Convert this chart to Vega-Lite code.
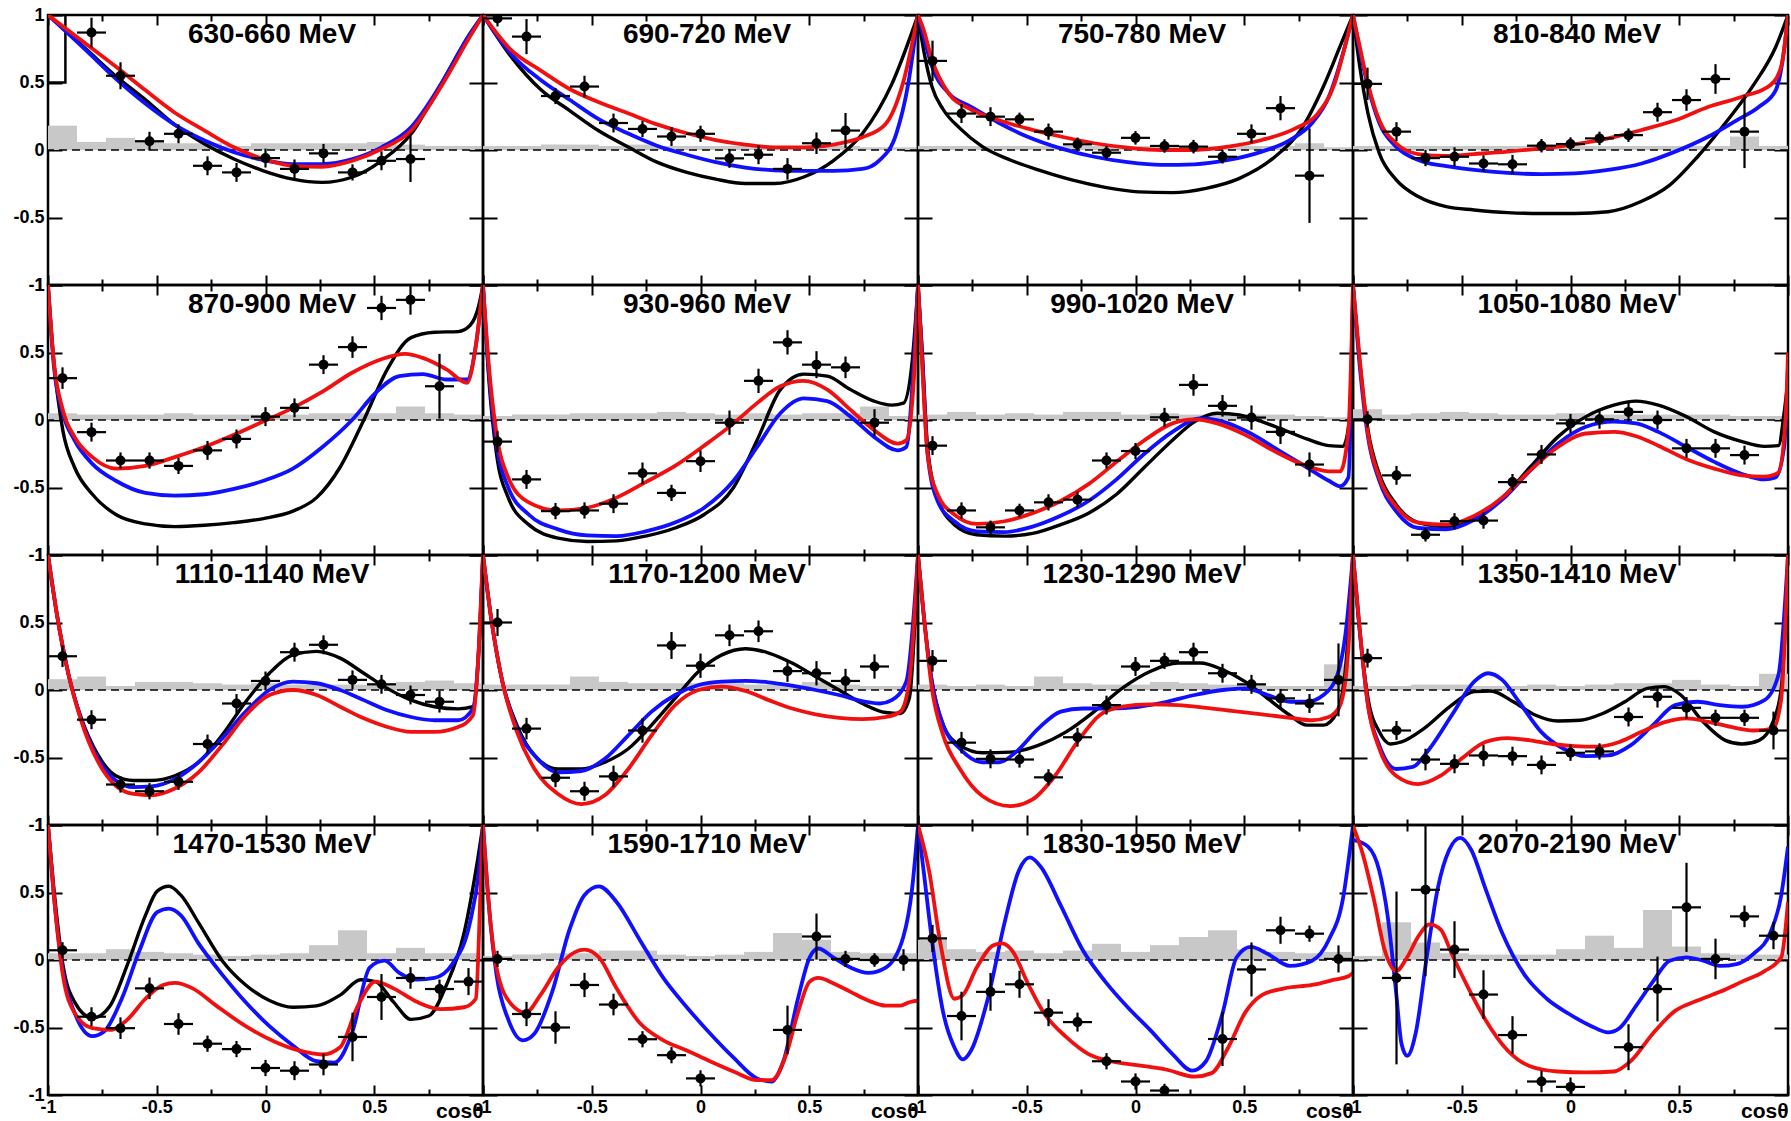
{
"$schema":"https://vega.github.io/schema/vega-lite/v6.json",
"background":"white",
"padding":{"left":0,"top":6,"right":2,"bottom":0},
"bounds":"flush",
"data":{"values":[
{"p":1,"k":"t","label":"630-660 MeV"},{"p":2,"k":"t","label":"690-720 MeV"},{"p":3,"k":"t","label":"750-780 MeV"},{"p":4,"k":"t","label":"810-840 MeV"},
{"p":5,"k":"t","label":"870-900 MeV"},{"p":6,"k":"t","label":"930-960 MeV"},{"p":7,"k":"t","label":"990-1020 MeV"},{"p":8,"k":"t","label":"1050-1080 MeV"},
{"p":9,"k":"t","label":"1110-1140 MeV"},{"p":10,"k":"t","label":"1170-1200 MeV"},{"p":11,"k":"t","label":"1230-1290 MeV"},{"p":12,"k":"t","label":"1350-1410 MeV"},
{"p":13,"k":"t","label":"1470-1530 MeV"},{"p":14,"k":"t","label":"1590-1710 MeV"},{"p":15,"k":"t","label":"1830-1950 MeV"},{"p":16,"k":"t","label":"2070-2190 MeV"},
{"p":1,"k":"q","a":-1,"b":-0.92,"v":0.5,"w":1},

{"p":1,"k":"s","a":-1,"b":-0.8667,"v":0.18},{"p":1,"k":"s","a":-0.8667,"b":-0.7333,"v":0.06},{"p":1,"k":"s","a":-0.7333,"b":-0.6,"v":0.09},{"p":1,"k":"s","a":-0.6,"b":-0.4667,"v":0.06},{"p":1,"k":"s","a":-0.4667,"b":-0.3333,"v":0.05},{"p":1,"k":"s","a":-0.3333,"b":-0.2,"v":0.05},{"p":1,"k":"s","a":-0.2,"b":-0.0667,"v":0.03},{"p":1,"k":"s","a":-0.0667,"b":0.0667,"v":0.05},{"p":1,"k":"s","a":0.0667,"b":0.2,"v":0.05},{"p":1,"k":"s","a":0.2,"b":0.3333,"v":0.05},{"p":1,"k":"s","a":0.3333,"b":0.4667,"v":0.05},{"p":1,"k":"s","a":0.4667,"b":0.6,"v":0.06},{"p":1,"k":"s","a":0.6,"b":0.7333,"v":0.04},{"p":1,"k":"s","a":0.7333,"b":0.8667,"v":0.03},{"p":1,"k":"s","a":0.8667,"b":1,"v":0.03},
{"p":2,"k":"s","a":-1,"b":-0.8667,"v":0.03},{"p":2,"k":"s","a":-0.8667,"b":-0.7333,"v":0.03},{"p":2,"k":"s","a":-0.7333,"b":-0.6,"v":0.04},{"p":2,"k":"s","a":-0.6,"b":-0.4667,"v":0.04},{"p":2,"k":"s","a":-0.4667,"b":-0.3333,"v":0.03},{"p":2,"k":"s","a":-0.3333,"b":-0.2,"v":0.04},{"p":2,"k":"s","a":-0.2,"b":-0.0667,"v":0.03},{"p":2,"k":"s","a":-0.0667,"b":0.0667,"v":0.03},{"p":2,"k":"s","a":0.0667,"b":0.2,"v":0.03},{"p":2,"k":"s","a":0.2,"b":0.3333,"v":0.03},{"p":2,"k":"s","a":0.3333,"b":0.4667,"v":0.03},{"p":2,"k":"s","a":0.4667,"b":0.6,"v":0.03},{"p":2,"k":"s","a":0.6,"b":0.7333,"v":0.03},{"p":2,"k":"s","a":0.7333,"b":0.8667,"v":0.02},{"p":2,"k":"s","a":0.8667,"b":1,"v":0.02},
{"p":3,"k":"s","a":-1,"b":-0.8667,"v":0.03},{"p":3,"k":"s","a":-0.8667,"b":-0.7333,"v":0.03},{"p":3,"k":"s","a":-0.7333,"b":-0.6,"v":0.03},{"p":3,"k":"s","a":-0.6,"b":-0.4667,"v":0.03},{"p":3,"k":"s","a":-0.4667,"b":-0.3333,"v":0.03},{"p":3,"k":"s","a":-0.3333,"b":-0.2,"v":0.03},{"p":3,"k":"s","a":-0.2,"b":-0.0667,"v":0.03},{"p":3,"k":"s","a":-0.0667,"b":0.0667,"v":0.03},{"p":3,"k":"s","a":0.0667,"b":0.2,"v":0.03},{"p":3,"k":"s","a":0.2,"b":0.3333,"v":0.03},{"p":3,"k":"s","a":0.3333,"b":0.4667,"v":0.03},{"p":3,"k":"s","a":0.4667,"b":0.6,"v":0.03},{"p":3,"k":"s","a":0.6,"b":0.7333,"v":0.03},{"p":3,"k":"s","a":0.7333,"b":0.8667,"v":0.05},{"p":3,"k":"s","a":0.8667,"b":1,"v":0.02},
{"p":4,"k":"s","a":-1,"b":-0.8667,"v":0.03},{"p":4,"k":"s","a":-0.8667,"b":-0.7333,"v":0.03},{"p":4,"k":"s","a":-0.7333,"b":-0.6,"v":0.03},{"p":4,"k":"s","a":-0.6,"b":-0.4667,"v":0.03},{"p":4,"k":"s","a":-0.4667,"b":-0.3333,"v":0.03},{"p":4,"k":"s","a":-0.3333,"b":-0.2,"v":0.03},{"p":4,"k":"s","a":-0.2,"b":-0.0667,"v":0.03},{"p":4,"k":"s","a":-0.0667,"b":0.0667,"v":0.03},{"p":4,"k":"s","a":0.0667,"b":0.2,"v":0.03},{"p":4,"k":"s","a":0.2,"b":0.3333,"v":0.03},{"p":4,"k":"s","a":0.3333,"b":0.4667,"v":0.03},{"p":4,"k":"s","a":0.4667,"b":0.6,"v":0.03},{"p":4,"k":"s","a":0.6,"b":0.7333,"v":0.03},{"p":4,"k":"s","a":0.7333,"b":0.8667,"v":0.1},{"p":4,"k":"s","a":0.8667,"b":1,"v":0.03},
{"p":5,"k":"s","a":-1,"b":-0.8667,"v":0.05},{"p":5,"k":"s","a":-0.8667,"b":-0.7333,"v":0.04},{"p":5,"k":"s","a":-0.7333,"b":-0.6,"v":0.04},{"p":5,"k":"s","a":-0.6,"b":-0.4667,"v":0.04},{"p":5,"k":"s","a":-0.4667,"b":-0.3333,"v":0.05},{"p":5,"k":"s","a":-0.3333,"b":-0.2,"v":0.04},{"p":5,"k":"s","a":-0.2,"b":-0.0667,"v":0.04},{"p":5,"k":"s","a":-0.0667,"b":0.0667,"v":0.04},{"p":5,"k":"s","a":0.0667,"b":0.2,"v":0.04},{"p":5,"k":"s","a":0.2,"b":0.3333,"v":0.05},{"p":5,"k":"s","a":0.3333,"b":0.4667,"v":0.05},{"p":5,"k":"s","a":0.4667,"b":0.6,"v":0.05},{"p":5,"k":"s","a":0.6,"b":0.7333,"v":0.1},{"p":5,"k":"s","a":0.7333,"b":0.8667,"v":0.05},{"p":5,"k":"s","a":0.8667,"b":1,"v":0.04},
{"p":6,"k":"s","a":-1,"b":-0.8667,"v":0.03},{"p":6,"k":"s","a":-0.8667,"b":-0.7333,"v":0.04},{"p":6,"k":"s","a":-0.7333,"b":-0.6,"v":0.04},{"p":6,"k":"s","a":-0.6,"b":-0.4667,"v":0.05},{"p":6,"k":"s","a":-0.4667,"b":-0.3333,"v":0.05},{"p":6,"k":"s","a":-0.3333,"b":-0.2,"v":0.05},{"p":6,"k":"s","a":-0.2,"b":-0.0667,"v":0.06},{"p":6,"k":"s","a":-0.0667,"b":0.0667,"v":0.05},{"p":6,"k":"s","a":0.0667,"b":0.2,"v":0.04},{"p":6,"k":"s","a":0.2,"b":0.3333,"v":0.05},{"p":6,"k":"s","a":0.3333,"b":0.4667,"v":0.04},{"p":6,"k":"s","a":0.4667,"b":0.6,"v":0.05},{"p":6,"k":"s","a":0.6,"b":0.7333,"v":0.05},{"p":6,"k":"s","a":0.7333,"b":0.8667,"v":0.1},{"p":6,"k":"s","a":0.8667,"b":1,"v":0.03},
{"p":7,"k":"s","a":-1,"b":-0.8667,"v":0.04},{"p":7,"k":"s","a":-0.8667,"b":-0.7333,"v":0.06},{"p":7,"k":"s","a":-0.7333,"b":-0.6,"v":0.04},{"p":7,"k":"s","a":-0.6,"b":-0.4667,"v":0.05},{"p":7,"k":"s","a":-0.4667,"b":-0.3333,"v":0.04},{"p":7,"k":"s","a":-0.3333,"b":-0.2,"v":0.06},{"p":7,"k":"s","a":-0.2,"b":-0.0667,"v":0.06},{"p":7,"k":"s","a":-0.0667,"b":0.0667,"v":0.04},{"p":7,"k":"s","a":0.0667,"b":0.2,"v":0.05},{"p":7,"k":"s","a":0.2,"b":0.3333,"v":0.04},{"p":7,"k":"s","a":0.3333,"b":0.4667,"v":0.05},{"p":7,"k":"s","a":0.4667,"b":0.6,"v":0.04},{"p":7,"k":"s","a":0.6,"b":0.7333,"v":0.04},{"p":7,"k":"s","a":0.7333,"b":0.8667,"v":0.03},{"p":7,"k":"s","a":0.8667,"b":1,"v":0.02},
{"p":8,"k":"s","a":-1,"b":-0.8667,"v":0.08},{"p":8,"k":"s","a":-0.8667,"b":-0.7333,"v":0.04},{"p":8,"k":"s","a":-0.7333,"b":-0.6,"v":0.05},{"p":8,"k":"s","a":-0.6,"b":-0.4667,"v":0.06},{"p":8,"k":"s","a":-0.4667,"b":-0.3333,"v":0.05},{"p":8,"k":"s","a":-0.3333,"b":-0.2,"v":0.04},{"p":8,"k":"s","a":-0.2,"b":-0.0667,"v":0.04},{"p":8,"k":"s","a":-0.0667,"b":0.0667,"v":0.05},{"p":8,"k":"s","a":0.0667,"b":0.2,"v":0.04},{"p":8,"k":"s","a":0.2,"b":0.3333,"v":0.04},{"p":8,"k":"s","a":0.3333,"b":0.4667,"v":0.04},{"p":8,"k":"s","a":0.4667,"b":0.6,"v":0.04},{"p":8,"k":"s","a":0.6,"b":0.7333,"v":0.04},{"p":8,"k":"s","a":0.7333,"b":0.8667,"v":0.03},{"p":8,"k":"s","a":0.8667,"b":1,"v":0.03},
{"p":9,"k":"s","a":-1,"b":-0.8667,"v":0.08},{"p":9,"k":"s","a":-0.8667,"b":-0.7333,"v":0.1},{"p":9,"k":"s","a":-0.7333,"b":-0.6,"v":0.03},{"p":9,"k":"s","a":-0.6,"b":-0.4667,"v":0.06},{"p":9,"k":"s","a":-0.4667,"b":-0.3333,"v":0.06},{"p":9,"k":"s","a":-0.3333,"b":-0.2,"v":0.05},{"p":9,"k":"s","a":-0.2,"b":-0.0667,"v":0.04},{"p":9,"k":"s","a":-0.0667,"b":0.0667,"v":0.05},{"p":9,"k":"s","a":0.0667,"b":0.2,"v":0.04},{"p":9,"k":"s","a":0.2,"b":0.3333,"v":0.04},{"p":9,"k":"s","a":0.3333,"b":0.4667,"v":0.04},{"p":9,"k":"s","a":0.4667,"b":0.6,"v":0.05},{"p":9,"k":"s","a":0.6,"b":0.7333,"v":0.06},{"p":9,"k":"s","a":0.7333,"b":0.8667,"v":0.07},{"p":9,"k":"s","a":0.8667,"b":1,"v":0.05},
{"p":10,"k":"s","a":-1,"b":-0.8667,"v":0.04},{"p":10,"k":"s","a":-0.8667,"b":-0.7333,"v":0.04},{"p":10,"k":"s","a":-0.7333,"b":-0.6,"v":0.04},{"p":10,"k":"s","a":-0.6,"b":-0.4667,"v":0.1},{"p":10,"k":"s","a":-0.4667,"b":-0.3333,"v":0.06},{"p":10,"k":"s","a":-0.3333,"b":-0.2,"v":0.05},{"p":10,"k":"s","a":-0.2,"b":-0.0667,"v":0.05},{"p":10,"k":"s","a":-0.0667,"b":0.0667,"v":0.05},{"p":10,"k":"s","a":0.0667,"b":0.2,"v":0.05},{"p":10,"k":"s","a":0.2,"b":0.3333,"v":0.04},{"p":10,"k":"s","a":0.3333,"b":0.4667,"v":0.04},{"p":10,"k":"s","a":0.4667,"b":0.6,"v":0.06},{"p":10,"k":"s","a":0.6,"b":0.7333,"v":0.04},{"p":10,"k":"s","a":0.7333,"b":0.8667,"v":0.03},{"p":10,"k":"s","a":0.8667,"b":1,"v":0.03},
{"p":11,"k":"s","a":-1,"b":-0.8667,"v":0.04},{"p":11,"k":"s","a":-0.8667,"b":-0.7333,"v":0.03},{"p":11,"k":"s","a":-0.7333,"b":-0.6,"v":0.04},{"p":11,"k":"s","a":-0.6,"b":-0.4667,"v":0.03},{"p":11,"k":"s","a":-0.4667,"b":-0.3333,"v":0.1},{"p":11,"k":"s","a":-0.3333,"b":-0.2,"v":0.05},{"p":11,"k":"s","a":-0.2,"b":-0.0667,"v":0.04},{"p":11,"k":"s","a":-0.0667,"b":0.0667,"v":0.04},{"p":11,"k":"s","a":0.0667,"b":0.2,"v":0.06},{"p":11,"k":"s","a":0.2,"b":0.3333,"v":0.05},{"p":11,"k":"s","a":0.3333,"b":0.4667,"v":0.04},{"p":11,"k":"s","a":0.4667,"b":0.6,"v":0.04},{"p":11,"k":"s","a":0.6,"b":0.7333,"v":0.03},{"p":11,"k":"s","a":0.7333,"b":0.8667,"v":0.03},{"p":11,"k":"s","a":0.8667,"b":1,"v":0.19},
{"p":12,"k":"s","a":-1,"b":-0.8667,"v":0.03},{"p":12,"k":"s","a":-0.8667,"b":-0.7333,"v":0.03},{"p":12,"k":"s","a":-0.7333,"b":-0.6,"v":0.04},{"p":12,"k":"s","a":-0.6,"b":-0.4667,"v":0.04},{"p":12,"k":"s","a":-0.4667,"b":-0.3333,"v":0.03},{"p":12,"k":"s","a":-0.3333,"b":-0.2,"v":0.03},{"p":12,"k":"s","a":-0.2,"b":-0.0667,"v":0.04},{"p":12,"k":"s","a":-0.0667,"b":0.0667,"v":0.03},{"p":12,"k":"s","a":0.0667,"b":0.2,"v":0.04},{"p":12,"k":"s","a":0.2,"b":0.3333,"v":0.05},{"p":12,"k":"s","a":0.3333,"b":0.4667,"v":0.05},{"p":12,"k":"s","a":0.4667,"b":0.6,"v":0.075},{"p":12,"k":"s","a":0.6,"b":0.7333,"v":0.04},{"p":12,"k":"s","a":0.7333,"b":0.8667,"v":0.03},{"p":12,"k":"s","a":0.8667,"b":1,"v":0.12},
{"p":13,"k":"s","a":-1,"b":-0.8667,"v":0.05},{"p":13,"k":"s","a":-0.8667,"b":-0.7333,"v":0.05},{"p":13,"k":"s","a":-0.7333,"b":-0.6,"v":0.08},{"p":13,"k":"s","a":-0.6,"b":-0.4667,"v":0.06},{"p":13,"k":"s","a":-0.4667,"b":-0.3333,"v":0.05},{"p":13,"k":"s","a":-0.3333,"b":-0.2,"v":0.04},{"p":13,"k":"s","a":-0.2,"b":-0.0667,"v":0.03},{"p":13,"k":"s","a":-0.0667,"b":0.0667,"v":0.04},{"p":13,"k":"s","a":0.0667,"b":0.2,"v":0.05},{"p":13,"k":"s","a":0.2,"b":0.3333,"v":0.11},{"p":13,"k":"s","a":0.3333,"b":0.4667,"v":0.22},{"p":13,"k":"s","a":0.4667,"b":0.6,"v":0.05},{"p":13,"k":"s","a":0.6,"b":0.7333,"v":0.09},{"p":13,"k":"s","a":0.7333,"b":0.8667,"v":0.05},{"p":13,"k":"s","a":0.8667,"b":1,"v":0.05},
{"p":14,"k":"s","a":-1,"b":-0.8667,"v":0.03},{"p":14,"k":"s","a":-0.8667,"b":-0.7333,"v":0.04},{"p":14,"k":"s","a":-0.7333,"b":-0.6,"v":0.05},{"p":14,"k":"s","a":-0.6,"b":-0.4667,"v":0.05},{"p":14,"k":"s","a":-0.4667,"b":-0.3333,"v":0.07},{"p":14,"k":"s","a":-0.3333,"b":-0.2,"v":0.07},{"p":14,"k":"s","a":-0.2,"b":-0.0667,"v":0.04},{"p":14,"k":"s","a":-0.0667,"b":0.0667,"v":0.03},{"p":14,"k":"s","a":0.0667,"b":0.2,"v":0.04},{"p":14,"k":"s","a":0.2,"b":0.3333,"v":0.06},{"p":14,"k":"s","a":0.3333,"b":0.4667,"v":0.2},{"p":14,"k":"s","a":0.4667,"b":0.6,"v":0.15},{"p":14,"k":"s","a":0.6,"b":0.7333,"v":0.06},{"p":14,"k":"s","a":0.7333,"b":0.8667,"v":0.05},{"p":14,"k":"s","a":0.8667,"b":1,"v":0.05},
{"p":15,"k":"s","a":-1,"b":-0.8667,"v":0.15},{"p":15,"k":"s","a":-0.8667,"b":-0.7333,"v":0.08},{"p":15,"k":"s","a":-0.7333,"b":-0.6,"v":0.06},{"p":15,"k":"s","a":-0.6,"b":-0.4667,"v":0.07},{"p":15,"k":"s","a":-0.4667,"b":-0.3333,"v":0.05},{"p":15,"k":"s","a":-0.3333,"b":-0.2,"v":0.07},{"p":15,"k":"s","a":-0.2,"b":-0.0667,"v":0.12},{"p":15,"k":"s","a":-0.0667,"b":0.0667,"v":0.06},{"p":15,"k":"s","a":0.0667,"b":0.2,"v":0.11},{"p":15,"k":"s","a":0.2,"b":0.3333,"v":0.17},{"p":15,"k":"s","a":0.3333,"b":0.4667,"v":0.22},{"p":15,"k":"s","a":0.4667,"b":0.6,"v":0.08},{"p":15,"k":"s","a":0.6,"b":0.7333,"v":0.06},{"p":15,"k":"s","a":0.7333,"b":0.8667,"v":0.05},{"p":15,"k":"s","a":0.8667,"b":1,"v":0.06},
{"p":16,"k":"s","a":-1,"b":-0.8667,"v":0.03},{"p":16,"k":"s","a":-0.8667,"b":-0.7333,"v":0.28},{"p":16,"k":"s","a":-0.7333,"b":-0.6,"v":0.13},{"p":16,"k":"s","a":-0.6,"b":-0.4667,"v":0.05},{"p":16,"k":"s","a":-0.4667,"b":-0.3333,"v":0.04},{"p":16,"k":"s","a":-0.3333,"b":-0.2,"v":0.04},{"p":16,"k":"s","a":-0.2,"b":-0.0667,"v":0.04},{"p":16,"k":"s","a":-0.0667,"b":0.0667,"v":0.08},{"p":16,"k":"s","a":0.0667,"b":0.2,"v":0.18},{"p":16,"k":"s","a":0.2,"b":0.3333,"v":0.09},{"p":16,"k":"s","a":0.3333,"b":0.4667,"v":0.37},{"p":16,"k":"s","a":0.4667,"b":0.6,"v":0.1},{"p":16,"k":"s","a":0.6,"b":0.7333,"v":0.05},{"p":16,"k":"s","a":0.7333,"b":0.8667,"v":0.04},{"p":16,"k":"s","a":0.8667,"b":1,"v":0.04},

{"p":1,"k":"d","x":-0.8,"y":0.87,"ex":0.0667,"ey":0.11},{"p":1,"k":"d","x":-0.6667,"y":0.55,"ex":0.0667,"ey":0.1},{"p":1,"k":"d","x":-0.5333,"y":0.065,"ex":0.0667,"ey":0.07},{"p":1,"k":"d","x":-0.4,"y":0.12,"ex":0.0667,"ey":0.07},{"p":1,"k":"d","x":-0.2667,"y":-0.117,"ex":0.0667,"ey":0.07},{"p":1,"k":"d","x":-0.1333,"y":-0.166,"ex":0.0667,"ey":0.07},{"p":1,"k":"d","x":0,"y":-0.06,"ex":0.0667,"ey":0.07},{"p":1,"k":"d","x":0.1333,"y":-0.14,"ex":0.0667,"ey":0.07},{"p":1,"k":"d","x":0.2667,"y":-0.025,"ex":0.0667,"ey":0.07},{"p":1,"k":"d","x":0.4,"y":-0.166,"ex":0.0667,"ey":0.06},{"p":1,"k":"d","x":0.5333,"y":-0.08,"ex":0.0667,"ey":0.07},{"p":1,"k":"d","x":0.6667,"y":-0.067,"ex":0.0667,"ey":0.17},
{"p":2,"k":"d","x":-0.9333,"y":0.975,"ex":0.0667,"ey":0.06},{"p":2,"k":"d","x":-0.8,"y":0.84,"ex":0.0667,"ey":0.13},{"p":2,"k":"d","x":-0.6667,"y":0.4,"ex":0.0667,"ey":0.06},{"p":2,"k":"d","x":-0.5333,"y":0.47,"ex":0.0667,"ey":0.08},{"p":2,"k":"d","x":-0.4,"y":0.2,"ex":0.0667,"ey":0.07},{"p":2,"k":"d","x":-0.2667,"y":0.156,"ex":0.0667,"ey":0.06},{"p":2,"k":"d","x":-0.1333,"y":0.1,"ex":0.0667,"ey":0.07},{"p":2,"k":"d","x":0,"y":0.12,"ex":0.0667,"ey":0.06},{"p":2,"k":"d","x":0.1333,"y":-0.062,"ex":0.0667,"ey":0.07},{"p":2,"k":"d","x":0.2667,"y":-0.035,"ex":0.0667,"ey":0.07},{"p":2,"k":"d","x":0.4,"y":-0.14,"ex":0.0667,"ey":0.08},{"p":2,"k":"d","x":0.5333,"y":0.05,"ex":0.0667,"ey":0.08},{"p":2,"k":"d","x":0.6667,"y":0.144,"ex":0.0667,"ey":0.13},
{"p":3,"k":"d","x":-0.9333,"y":0.66,"ex":0.0667,"ey":0.15},{"p":3,"k":"d","x":-0.8,"y":0.27,"ex":0.0667,"ey":0.07},{"p":3,"k":"d","x":-0.6667,"y":0.247,"ex":0.0667,"ey":0.07},{"p":3,"k":"d","x":-0.5333,"y":0.227,"ex":0.0667,"ey":0.05},{"p":3,"k":"d","x":-0.4,"y":0.136,"ex":0.0667,"ey":0.06},{"p":3,"k":"d","x":-0.2667,"y":0.042,"ex":0.0667,"ey":0.05},{"p":3,"k":"d","x":-0.1333,"y":-0.02,"ex":0.0667,"ey":0.05},{"p":3,"k":"d","x":0,"y":0.09,"ex":0.0667,"ey":0.05},{"p":3,"k":"d","x":0.1333,"y":0.03,"ex":0.0667,"ey":0.05},{"p":3,"k":"d","x":0.2667,"y":0.025,"ex":0.0667,"ey":0.05},{"p":3,"k":"d","x":0.4,"y":-0.05,"ex":0.0667,"ey":0.05},{"p":3,"k":"d","x":0.5333,"y":0.12,"ex":0.0667,"ey":0.07},{"p":3,"k":"d","x":0.6667,"y":0.31,"ex":0.0667,"ey":0.09},{"p":3,"k":"d","x":0.8,"y":-0.19,"ex":0.0667,"ey":0.35},
{"p":4,"k":"d","x":-0.9333,"y":0.49,"ex":0.0667,"ey":0.12},{"p":4,"k":"d","x":-0.8,"y":0.136,"ex":0.0667,"ey":0.07},{"p":4,"k":"d","x":-0.6667,"y":-0.06,"ex":0.0667,"ey":0.06},{"p":4,"k":"d","x":-0.5333,"y":-0.05,"ex":0.0667,"ey":0.07},{"p":4,"k":"d","x":-0.4,"y":-0.1,"ex":0.0667,"ey":0.06},{"p":4,"k":"d","x":-0.2667,"y":-0.106,"ex":0.0667,"ey":0.07},{"p":4,"k":"d","x":-0.1333,"y":0.032,"ex":0.0667,"ey":0.05},{"p":4,"k":"d","x":0,"y":0.044,"ex":0.0667,"ey":0.05},{"p":4,"k":"d","x":0.1333,"y":0.086,"ex":0.0667,"ey":0.05},{"p":4,"k":"d","x":0.2667,"y":0.11,"ex":0.0667,"ey":0.05},{"p":4,"k":"d","x":0.4,"y":0.28,"ex":0.0667,"ey":0.07},{"p":4,"k":"d","x":0.5333,"y":0.37,"ex":0.0667,"ey":0.08},{"p":4,"k":"d","x":0.6667,"y":0.526,"ex":0.0667,"ey":0.11},{"p":4,"k":"d","x":0.8,"y":0.136,"ex":0.0667,"ey":0.27},
{"p":5,"k":"d","x":-0.9333,"y":0.31,"ex":0.0667,"ey":0.08},{"p":5,"k":"d","x":-0.8,"y":-0.09,"ex":0.0667,"ey":0.07},{"p":5,"k":"d","x":-0.6667,"y":-0.3,"ex":0.0667,"ey":0.06},{"p":5,"k":"d","x":-0.5333,"y":-0.3,"ex":0.0667,"ey":0.06},{"p":5,"k":"d","x":-0.4,"y":-0.34,"ex":0.0667,"ey":0.06},{"p":5,"k":"d","x":-0.2667,"y":-0.225,"ex":0.0667,"ey":0.07},{"p":5,"k":"d","x":-0.1333,"y":-0.14,"ex":0.0667,"ey":0.07},{"p":5,"k":"d","x":0,"y":0.025,"ex":0.0667,"ey":0.07},{"p":5,"k":"d","x":0.1333,"y":0.09,"ex":0.0667,"ey":0.07},{"p":5,"k":"d","x":0.2667,"y":0.41,"ex":0.0667,"ey":0.07},{"p":5,"k":"d","x":0.4,"y":0.54,"ex":0.0667,"ey":0.08},{"p":5,"k":"d","x":0.5333,"y":0.83,"ex":0.0667,"ey":0.09},{"p":5,"k":"d","x":0.6667,"y":0.89,"ex":0.0667,"ey":0.11},{"p":5,"k":"d","x":0.8,"y":0.25,"ex":0.0667,"ey":0.24},
{"p":6,"k":"d","x":-0.9333,"y":-0.16,"ex":0.0667,"ey":0.08},{"p":6,"k":"d","x":-0.8,"y":-0.44,"ex":0.0667,"ey":0.07},{"p":6,"k":"d","x":-0.6667,"y":-0.675,"ex":0.0667,"ey":0.06},{"p":6,"k":"d","x":-0.5333,"y":-0.67,"ex":0.0667,"ey":0.06},{"p":6,"k":"d","x":-0.4,"y":-0.62,"ex":0.0667,"ey":0.07},{"p":6,"k":"d","x":-0.2667,"y":-0.395,"ex":0.0667,"ey":0.08},{"p":6,"k":"d","x":-0.1333,"y":-0.54,"ex":0.0667,"ey":0.06},{"p":6,"k":"d","x":0,"y":-0.305,"ex":0.0667,"ey":0.08},{"p":6,"k":"d","x":0.1333,"y":-0.02,"ex":0.0667,"ey":0.09},{"p":6,"k":"d","x":0.2667,"y":0.29,"ex":0.0667,"ey":0.09},{"p":6,"k":"d","x":0.4,"y":0.575,"ex":0.0667,"ey":0.09},{"p":6,"k":"d","x":0.5333,"y":0.41,"ex":0.0667,"ey":0.1},{"p":6,"k":"d","x":0.6667,"y":0.39,"ex":0.0667,"ey":0.08},{"p":6,"k":"d","x":0.8,"y":-0.02,"ex":0.0667,"ey":0.1},
{"p":7,"k":"d","x":-0.9333,"y":-0.19,"ex":0.0667,"ey":0.07},{"p":7,"k":"d","x":-0.8,"y":-0.67,"ex":0.0667,"ey":0.06},{"p":7,"k":"d","x":-0.6667,"y":-0.795,"ex":0.0667,"ey":0.05},{"p":7,"k":"d","x":-0.5333,"y":-0.67,"ex":0.0667,"ey":0.05},{"p":7,"k":"d","x":-0.4,"y":-0.61,"ex":0.0667,"ey":0.06},{"p":7,"k":"d","x":-0.2667,"y":-0.59,"ex":0.0667,"ey":0.06},{"p":7,"k":"d","x":-0.1333,"y":-0.3,"ex":0.0667,"ey":0.06},{"p":7,"k":"d","x":0,"y":-0.23,"ex":0.0667,"ey":0.06},{"p":7,"k":"d","x":0.1333,"y":0.02,"ex":0.0667,"ey":0.07},{"p":7,"k":"d","x":0.2667,"y":0.26,"ex":0.0667,"ey":0.08},{"p":7,"k":"d","x":0.4,"y":0.105,"ex":0.0667,"ey":0.08},{"p":7,"k":"d","x":0.5333,"y":0.018,"ex":0.0667,"ey":0.09},{"p":7,"k":"d","x":0.6667,"y":-0.088,"ex":0.0667,"ey":0.09},{"p":7,"k":"d","x":0.8,"y":-0.33,"ex":0.0667,"ey":0.09},
{"p":8,"k":"d","x":-0.9333,"y":0.005,"ex":0.0667,"ey":0.06},{"p":8,"k":"d","x":-0.8,"y":-0.41,"ex":0.0667,"ey":0.07},{"p":8,"k":"d","x":-0.6667,"y":-0.85,"ex":0.0667,"ey":0.05},{"p":8,"k":"d","x":-0.5333,"y":-0.75,"ex":0.0667,"ey":0.06},{"p":8,"k":"d","x":-0.4,"y":-0.745,"ex":0.0667,"ey":0.06},{"p":8,"k":"d","x":-0.2667,"y":-0.46,"ex":0.0667,"ey":0.06},{"p":8,"k":"d","x":-0.1333,"y":-0.255,"ex":0.0667,"ey":0.07},{"p":8,"k":"d","x":0,"y":-0.025,"ex":0.0667,"ey":0.07},{"p":8,"k":"d","x":0.1333,"y":0.005,"ex":0.0667,"ey":0.07},{"p":8,"k":"d","x":0.2667,"y":0.06,"ex":0.0667,"ey":0.07},{"p":8,"k":"d","x":0.4,"y":0.0,"ex":0.0667,"ey":0.07},{"p":8,"k":"d","x":0.5333,"y":-0.21,"ex":0.0667,"ey":0.07},{"p":8,"k":"d","x":0.6667,"y":-0.21,"ex":0.0667,"ey":0.07},{"p":8,"k":"d","x":0.8,"y":-0.26,"ex":0.0667,"ey":0.07},
{"p":9,"k":"d","x":-0.9333,"y":0.25,"ex":0.0667,"ey":0.08},{"p":9,"k":"d","x":-0.8,"y":-0.22,"ex":0.0667,"ey":0.07},{"p":9,"k":"d","x":-0.6667,"y":-0.7,"ex":0.0667,"ey":0.06},{"p":9,"k":"d","x":-0.5333,"y":-0.75,"ex":0.0667,"ey":0.06},{"p":9,"k":"d","x":-0.4,"y":-0.68,"ex":0.0667,"ey":0.06},{"p":9,"k":"d","x":-0.2667,"y":-0.4,"ex":0.0667,"ey":0.07},{"p":9,"k":"d","x":-0.1333,"y":-0.1,"ex":0.0667,"ey":0.07},{"p":9,"k":"d","x":0,"y":0.067,"ex":0.0667,"ey":0.07},{"p":9,"k":"d","x":0.1333,"y":0.28,"ex":0.0667,"ey":0.07},{"p":9,"k":"d","x":0.2667,"y":0.335,"ex":0.0667,"ey":0.07},{"p":9,"k":"d","x":0.4,"y":0.075,"ex":0.0667,"ey":0.07},{"p":9,"k":"d","x":0.5333,"y":0.042,"ex":0.0667,"ey":0.07},{"p":9,"k":"d","x":0.6667,"y":-0.037,"ex":0.0667,"ey":0.07},{"p":9,"k":"d","x":0.8,"y":-0.087,"ex":0.0667,"ey":0.08},
{"p":10,"k":"d","x":-0.9333,"y":0.5,"ex":0.0667,"ey":0.1},{"p":10,"k":"d","x":-0.8,"y":-0.286,"ex":0.0667,"ey":0.08},{"p":10,"k":"d","x":-0.6667,"y":-0.65,"ex":0.0667,"ey":0.07},{"p":10,"k":"d","x":-0.5333,"y":-0.75,"ex":0.0667,"ey":0.07},{"p":10,"k":"d","x":-0.4,"y":-0.64,"ex":0.0667,"ey":0.08},{"p":10,"k":"d","x":-0.2667,"y":-0.3,"ex":0.0667,"ey":0.09},{"p":10,"k":"d","x":-0.1333,"y":0.33,"ex":0.0667,"ey":0.1},{"p":10,"k":"d","x":0,"y":0.18,"ex":0.0667,"ey":0.09},{"p":10,"k":"d","x":0.1333,"y":0.405,"ex":0.0667,"ey":0.08},{"p":10,"k":"d","x":0.2667,"y":0.435,"ex":0.0667,"ey":0.08},{"p":10,"k":"d","x":0.4,"y":0.14,"ex":0.0667,"ey":0.08},{"p":10,"k":"d","x":0.5333,"y":0.124,"ex":0.0667,"ey":0.09},{"p":10,"k":"d","x":0.6667,"y":0.067,"ex":0.0667,"ey":0.09},{"p":10,"k":"d","x":0.8,"y":0.174,"ex":0.0667,"ey":0.09},
{"p":11,"k":"d","x":-0.9333,"y":0.216,"ex":0.0667,"ey":0.08},{"p":11,"k":"d","x":-0.8,"y":-0.39,"ex":0.0667,"ey":0.08},{"p":11,"k":"d","x":-0.6667,"y":-0.51,"ex":0.0667,"ey":0.07},{"p":11,"k":"d","x":-0.5333,"y":-0.515,"ex":0.0667,"ey":0.06},{"p":11,"k":"d","x":-0.4,"y":-0.647,"ex":0.0667,"ey":0.06},{"p":11,"k":"d","x":-0.2667,"y":-0.35,"ex":0.0667,"ey":0.07},{"p":11,"k":"d","x":-0.1333,"y":-0.112,"ex":0.0667,"ey":0.07},{"p":11,"k":"d","x":0,"y":0.174,"ex":0.0667,"ey":0.07},{"p":11,"k":"d","x":0.1333,"y":0.216,"ex":0.0667,"ey":0.06},{"p":11,"k":"d","x":0.2667,"y":0.28,"ex":0.0667,"ey":0.07},{"p":11,"k":"d","x":0.4,"y":0.124,"ex":0.0667,"ey":0.07},{"p":11,"k":"d","x":0.5333,"y":0.042,"ex":0.0667,"ey":0.07},{"p":11,"k":"d","x":0.6667,"y":-0.062,"ex":0.0667,"ey":0.07},{"p":11,"k":"d","x":0.8,"y":-0.1,"ex":0.0667,"ey":0.07},{"p":11,"k":"d","x":0.9333,"y":0.075,"ex":0.0667,"ey":0.27},
{"p":12,"k":"d","x":-0.9333,"y":0.236,"ex":0.0667,"ey":0.07},{"p":12,"k":"d","x":-0.8,"y":-0.3,"ex":0.0667,"ey":0.07},{"p":12,"k":"d","x":-0.6667,"y":-0.515,"ex":0.0667,"ey":0.08},{"p":12,"k":"d","x":-0.5333,"y":-0.547,"ex":0.0667,"ey":0.07},{"p":12,"k":"d","x":-0.4,"y":-0.485,"ex":0.0667,"ey":0.08},{"p":12,"k":"d","x":-0.2667,"y":-0.49,"ex":0.0667,"ey":0.07},{"p":12,"k":"d","x":-0.1333,"y":-0.555,"ex":0.0667,"ey":0.07},{"p":12,"k":"d","x":0,"y":-0.465,"ex":0.0667,"ey":0.06},{"p":12,"k":"d","x":0.1333,"y":-0.455,"ex":0.0667,"ey":0.06},{"p":12,"k":"d","x":0.2667,"y":-0.2,"ex":0.0667,"ey":0.07},{"p":12,"k":"d","x":0.4,"y":-0.05,"ex":0.0667,"ey":0.08},{"p":12,"k":"d","x":0.5333,"y":-0.132,"ex":0.0667,"ey":0.08},{"p":12,"k":"d","x":0.6667,"y":-0.206,"ex":0.0667,"ey":0.06},{"p":12,"k":"d","x":0.8,"y":-0.206,"ex":0.0667,"ey":0.06},{"p":12,"k":"d","x":0.9333,"y":-0.3,"ex":0.0667,"ey":0.14},
{"p":13,"k":"d","x":-0.9333,"y":0.072,"ex":0.0667,"ey":0.06},{"p":13,"k":"d","x":-0.8,"y":-0.42,"ex":0.0667,"ey":0.07},{"p":13,"k":"d","x":-0.6667,"y":-0.505,"ex":0.0667,"ey":0.08},{"p":13,"k":"d","x":-0.5333,"y":-0.21,"ex":0.0667,"ey":0.08},{"p":13,"k":"d","x":-0.4,"y":-0.474,"ex":0.0667,"ey":0.08},{"p":13,"k":"d","x":-0.2667,"y":-0.62,"ex":0.0667,"ey":0.06},{"p":13,"k":"d","x":-0.1333,"y":-0.66,"ex":0.0667,"ey":0.06},{"p":13,"k":"d","x":0,"y":-0.8,"ex":0.0667,"ey":0.06},{"p":13,"k":"d","x":0.1333,"y":-0.82,"ex":0.0667,"ey":0.07},{"p":13,"k":"d","x":0.2667,"y":-0.774,"ex":0.0667,"ey":0.08},{"p":13,"k":"d","x":0.4,"y":-0.57,"ex":0.0667,"ey":0.18},{"p":13,"k":"d","x":0.5333,"y":-0.274,"ex":0.0667,"ey":0.17},{"p":13,"k":"d","x":0.6667,"y":-0.133,"ex":0.0667,"ey":0.08},{"p":13,"k":"d","x":0.8,"y":-0.215,"ex":0.0667,"ey":0.07},{"p":13,"k":"d","x":0.9333,"y":-0.16,"ex":0.0667,"ey":0.1},
{"p":14,"k":"d","x":-0.9333,"y":0.008,"ex":0.0667,"ey":0.06},{"p":14,"k":"d","x":-0.8,"y":-0.4,"ex":0.0667,"ey":0.09},{"p":14,"k":"d","x":-0.6667,"y":-0.5,"ex":0.0667,"ey":0.12},{"p":14,"k":"d","x":-0.5333,"y":-0.185,"ex":0.0667,"ey":0.09},{"p":14,"k":"d","x":-0.4,"y":-0.33,"ex":0.0667,"ey":0.08},{"p":14,"k":"d","x":-0.2667,"y":-0.587,"ex":0.0667,"ey":0.06},{"p":14,"k":"d","x":-0.1333,"y":-0.705,"ex":0.0667,"ey":0.06},{"p":14,"k":"d","x":0,"y":-0.877,"ex":0.0667,"ey":0.06},{"p":14,"k":"d","x":0.4,"y":-0.518,"ex":0.0667,"ey":0.18},{"p":14,"k":"d","x":0.5333,"y":0.174,"ex":0.0667,"ey":0.17},{"p":14,"k":"d","x":0.6667,"y":0.008,"ex":0.0667,"ey":0.06},{"p":14,"k":"d","x":0.8,"y":0.0,"ex":0.0667,"ey":0.05},{"p":14,"k":"d","x":0.9333,"y":0.0,"ex":0.0667,"ey":0.08},
{"p":15,"k":"d","x":-0.9333,"y":0.16,"ex":0.0667,"ey":0.1},{"p":15,"k":"d","x":-0.8,"y":-0.415,"ex":0.0667,"ey":0.18},{"p":15,"k":"d","x":-0.6667,"y":-0.236,"ex":0.0667,"ey":0.14},{"p":15,"k":"d","x":-0.5333,"y":-0.18,"ex":0.0667,"ey":0.1},{"p":15,"k":"d","x":-0.4,"y":-0.39,"ex":0.0667,"ey":0.1},{"p":15,"k":"d","x":-0.2667,"y":-0.46,"ex":0.0667,"ey":0.07},{"p":15,"k":"d","x":-0.1333,"y":-0.75,"ex":0.0667,"ey":0.06},{"p":15,"k":"d","x":0,"y":-0.9,"ex":0.0667,"ey":0.06},{"p":15,"k":"d","x":0.1333,"y":-0.967,"ex":0.0667,"ey":0.05},{"p":15,"k":"d","x":0.4,"y":-0.585,"ex":0.0667,"ey":0.2},{"p":15,"k":"d","x":0.5333,"y":-0.07,"ex":0.0667,"ey":0.2},{"p":15,"k":"d","x":0.6667,"y":0.22,"ex":0.0667,"ey":0.1},{"p":15,"k":"d","x":0.8,"y":0.195,"ex":0.0667,"ey":0.06},{"p":15,"k":"d","x":0.9333,"y":0.008,"ex":0.0667,"ey":0.1},
{"p":16,"k":"d","x":-0.8,"y":-0.133,"ex":0.0667,"ey":0.64},{"p":16,"k":"d","x":-0.6667,"y":0.52,"ex":0.0667,"ey":0.64},{"p":16,"k":"d","x":-0.5333,"y":0.077,"ex":0.0667,"ey":0.21},{"p":16,"k":"d","x":-0.4,"y":-0.256,"ex":0.0667,"ey":0.18},{"p":16,"k":"d","x":-0.2667,"y":-0.556,"ex":0.0667,"ey":0.14},{"p":16,"k":"d","x":-0.1333,"y":-0.9,"ex":0.0667,"ey":0.08},{"p":16,"k":"d","x":0,"y":-0.94,"ex":0.0667,"ey":0.07},{"p":16,"k":"d","x":0.2667,"y":-0.646,"ex":0.0667,"ey":0.17},{"p":16,"k":"d","x":0.4,"y":-0.215,"ex":0.0667,"ey":0.24},{"p":16,"k":"d","x":0.5333,"y":0.39,"ex":0.0667,"ey":0.33},{"p":16,"k":"d","x":0.6667,"y":0.008,"ex":0.0667,"ey":0.15},{"p":16,"k":"d","x":0.8,"y":0.323,"ex":0.0667,"ey":0.08},{"p":16,"k":"d","x":0.9333,"y":0.18,"ex":0.0667,"ey":0.1},

{"p":1,"k":"k","x":-1,"y":1},{"p":1,"k":"k","x":-0.82,"y":0.74},{"p":1,"k":"k","x":-0.69,"y":0.55},{"p":1,"k":"k","x":-0.55,"y":0.37},{"p":1,"k":"k","x":-0.42,"y":0.19},{"p":1,"k":"k","x":-0.28,"y":0.045},{"p":1,"k":"k","x":-0.145,"y":-0.067},{"p":1,"k":"k","x":-0.01,"y":-0.154},{"p":1,"k":"k","x":0.126,"y":-0.216},{"p":1,"k":"k","x":0.26,"y":-0.24},{"p":1,"k":"k","x":0.4,"y":-0.2},{"p":1,"k":"k","x":0.533,"y":-0.08},{"p":1,"k":"k","x":0.67,"y":0.12},{"p":1,"k":"k","x":0.8,"y":0.47},{"p":1,"k":"k","x":0.94,"y":0.86},{"p":1,"k":"k","x":1,"y":1},
{"p":1,"k":"b","x":-1,"y":1},{"p":1,"k":"b","x":-0.82,"y":0.73},{"p":1,"k":"b","x":-0.69,"y":0.53},{"p":1,"k":"b","x":-0.55,"y":0.34},{"p":1,"k":"b","x":-0.42,"y":0.19},{"p":1,"k":"b","x":-0.28,"y":0.07},{"p":1,"k":"b","x":-0.145,"y":-0.017},{"p":1,"k":"b","x":-0.01,"y":-0.074},{"p":1,"k":"b","x":0.126,"y":-0.104},{"p":1,"k":"b","x":0.26,"y":-0.104},{"p":1,"k":"b","x":0.4,"y":-0.067},{"p":1,"k":"b","x":0.533,"y":0.02},{"p":1,"k":"b","x":0.67,"y":0.17},{"p":1,"k":"b","x":0.8,"y":0.47},{"p":1,"k":"b","x":0.94,"y":0.86},{"p":1,"k":"b","x":1,"y":1},
{"p":1,"k":"r","x":-1,"y":1},{"p":1,"k":"r","x":-0.82,"y":0.78},{"p":1,"k":"r","x":-0.69,"y":0.62},{"p":1,"k":"r","x":-0.55,"y":0.44},{"p":1,"k":"r","x":-0.42,"y":0.28},{"p":1,"k":"r","x":-0.28,"y":0.144},{"p":1,"k":"r","x":-0.145,"y":0.02},{"p":1,"k":"r","x":-0.01,"y":-0.067},{"p":1,"k":"r","x":0.126,"y":-0.117},{"p":1,"k":"r","x":0.26,"y":-0.124},{"p":1,"k":"r","x":0.4,"y":-0.08},{"p":1,"k":"r","x":0.533,"y":0.007},{"p":1,"k":"r","x":0.67,"y":0.144},{"p":1,"k":"r","x":0.8,"y":0.45},{"p":1,"k":"r","x":0.94,"y":0.84},{"p":1,"k":"r","x":1,"y":1},

{"p":2,"k":"k","x":-1,"y":1},{"p":2,"k":"k","x":-0.87,"y":0.69},{"p":2,"k":"k","x":-0.736,"y":0.45},{"p":2,"k":"k","x":-0.6,"y":0.29},{"p":2,"k":"k","x":-0.47,"y":0.144},{"p":2,"k":"k","x":-0.33,"y":0.02},{"p":2,"k":"k","x":-0.2,"y":-0.09},{"p":2,"k":"k","x":-0.063,"y":-0.166},{"p":2,"k":"k","x":0.07,"y":-0.216},{"p":2,"k":"k","x":0.206,"y":-0.248},{"p":2,"k":"k","x":0.34,"y":-0.248},{"p":2,"k":"k","x":0.475,"y":-0.2},{"p":2,"k":"k","x":0.61,"y":-0.08},{"p":2,"k":"k","x":0.744,"y":0.12},{"p":2,"k":"k","x":0.88,"y":0.49},{"p":2,"k":"k","x":1,"y":1},
{"p":2,"k":"b","x":-1,"y":1},{"p":2,"k":"b","x":-0.87,"y":0.71},{"p":2,"k":"b","x":-0.736,"y":0.52},{"p":2,"k":"b","x":-0.6,"y":0.37},{"p":2,"k":"b","x":-0.47,"y":0.23},{"p":2,"k":"b","x":-0.33,"y":0.12},{"p":2,"k":"b","x":-0.2,"y":0.032},{"p":2,"k":"b","x":-0.063,"y":-0.035},{"p":2,"k":"b","x":0.07,"y":-0.09},{"p":2,"k":"b","x":0.206,"y":-0.13},{"p":2,"k":"b","x":0.34,"y":-0.15},{"p":2,"k":"b","x":0.475,"y":-0.154},{"p":2,"k":"b","x":0.61,"y":-0.154},{"p":2,"k":"b","x":0.744,"y":-0.14},{"p":2,"k":"b","x":0.82,"y":-0.08},{"p":2,"k":"b","x":0.9,"y":0.12},{"p":2,"k":"b","x":0.955,"y":0.49},{"p":2,"k":"b","x":1,"y":1},
{"p":2,"k":"r","x":-1,"y":1},{"p":2,"k":"r","x":-0.87,"y":0.74},{"p":2,"k":"r","x":-0.736,"y":0.59},{"p":2,"k":"r","x":-0.6,"y":0.45},{"p":2,"k":"r","x":-0.47,"y":0.355},{"p":2,"k":"r","x":-0.33,"y":0.27},{"p":2,"k":"r","x":-0.2,"y":0.19},{"p":2,"k":"r","x":-0.063,"y":0.124},{"p":2,"k":"r","x":0.07,"y":0.074},{"p":2,"k":"r","x":0.206,"y":0.04},{"p":2,"k":"r","x":0.34,"y":0.02},{"p":2,"k":"r","x":0.475,"y":0.02},{"p":2,"k":"r","x":0.61,"y":0.04},{"p":2,"k":"r","x":0.744,"y":0.094},{"p":2,"k":"r","x":0.85,"y":0.19},{"p":2,"k":"r","x":0.93,"y":0.49},{"p":2,"k":"r","x":1,"y":1},

{"p":3,"k":"k","x":-1,"y":1},{"p":3,"k":"k","x":-0.974,"y":0.74},{"p":3,"k":"k","x":-0.936,"y":0.47},{"p":3,"k":"k","x":-0.884,"y":0.3},{"p":3,"k":"k","x":-0.807,"y":0.16},{"p":3,"k":"k","x":-0.704,"y":0.025},{"p":3,"k":"k","x":-0.576,"y":-0.074},{"p":3,"k":"k","x":-0.447,"y":-0.148},{"p":3,"k":"k","x":-0.293,"y":-0.222},{"p":3,"k":"k","x":-0.139,"y":-0.277},{"p":3,"k":"k","x":0.015,"y":-0.31},{"p":3,"k":"k","x":0.17,"y":-0.316},{"p":3,"k":"k","x":0.324,"y":-0.284},{"p":3,"k":"k","x":0.478,"y":-0.21},{"p":3,"k":"k","x":0.632,"y":-0.062},{"p":3,"k":"k","x":0.76,"y":0.148},{"p":3,"k":"k","x":0.864,"y":0.47},{"p":3,"k":"k","x":0.94,"y":0.765},{"p":3,"k":"k","x":1,"y":1},
{"p":3,"k":"b","x":-1,"y":1},{"p":3,"k":"b","x":-0.974,"y":0.84},{"p":3,"k":"b","x":-0.936,"y":0.62},{"p":3,"k":"b","x":-0.859,"y":0.42},{"p":3,"k":"b","x":-0.756,"y":0.32},{"p":3,"k":"b","x":-0.627,"y":0.2},{"p":3,"k":"b","x":-0.499,"y":0.1},{"p":3,"k":"b","x":-0.344,"y":0.012},{"p":3,"k":"b","x":-0.19,"y":-0.05},{"p":3,"k":"b","x":-0.036,"y":-0.09},{"p":3,"k":"b","x":0.118,"y":-0.11},{"p":3,"k":"b","x":0.272,"y":-0.106},{"p":3,"k":"b","x":0.427,"y":-0.074},{"p":3,"k":"b","x":0.581,"y":-0.012},{"p":3,"k":"b","x":0.71,"y":0.074},{"p":3,"k":"b","x":0.812,"y":0.2},{"p":3,"k":"b","x":0.889,"y":0.395},{"p":3,"k":"b","x":0.954,"y":0.716},{"p":3,"k":"b","x":1,"y":1},
{"p":3,"k":"r","x":-1,"y":1},{"p":3,"k":"r","x":-0.974,"y":0.89},{"p":3,"k":"r","x":-0.936,"y":0.67},{"p":3,"k":"r","x":-0.859,"y":0.42},{"p":3,"k":"r","x":-0.756,"y":0.3},{"p":3,"k":"r","x":-0.627,"y":0.22},{"p":3,"k":"r","x":-0.499,"y":0.16},{"p":3,"k":"r","x":-0.344,"y":0.1},{"p":3,"k":"r","x":-0.19,"y":0.05},{"p":3,"k":"r","x":-0.036,"y":0.017},{"p":3,"k":"r","x":0.118,"y":0},{"p":3,"k":"r","x":0.272,"y":0},{"p":3,"k":"r","x":0.427,"y":0.025},{"p":3,"k":"r","x":0.581,"y":0.074},{"p":3,"k":"r","x":0.735,"y":0.16},{"p":3,"k":"r","x":0.838,"y":0.27},{"p":3,"k":"r","x":0.915,"y":0.49},{"p":3,"k":"r","x":0.967,"y":0.79},{"p":3,"k":"r","x":1,"y":1},

{"p":4,"k":"k","x":-1,"y":1},{"p":4,"k":"k","x":-0.969,"y":0.62},{"p":4,"k":"k","x":-0.931,"y":0.27},{"p":4,"k":"k","x":-0.879,"y":-0.025},{"p":4,"k":"k","x":-0.802,"y":-0.22},{"p":4,"k":"k","x":-0.7,"y":-0.345},{"p":4,"k":"k","x":-0.571,"y":-0.42},{"p":4,"k":"k","x":-0.443,"y":-0.444},{"p":4,"k":"k","x":-0.289,"y":-0.464},{"p":4,"k":"k","x":-0.135,"y":-0.47},{"p":4,"k":"k","x":0.019,"y":-0.47},{"p":4,"k":"k","x":0.173,"y":-0.457},{"p":4,"k":"k","x":0.327,"y":-0.38},{"p":4,"k":"k","x":0.456,"y":-0.26},{"p":4,"k":"k","x":0.584,"y":-0.05},{"p":4,"k":"k","x":0.712,"y":0.2},{"p":4,"k":"k","x":0.841,"y":0.48},{"p":4,"k":"k","x":0.944,"y":0.765},{"p":4,"k":"k","x":1,"y":1},
{"p":4,"k":"b","x":-1,"y":1},{"p":4,"k":"b","x":-0.969,"y":0.74},{"p":4,"k":"b","x":-0.931,"y":0.47},{"p":4,"k":"b","x":-0.879,"y":0.2},{"p":4,"k":"b","x":-0.802,"y":0.025},{"p":4,"k":"b","x":-0.7,"y":-0.074},{"p":4,"k":"b","x":-0.571,"y":-0.12},{"p":4,"k":"b","x":-0.443,"y":-0.148},{"p":4,"k":"b","x":-0.289,"y":-0.17},{"p":4,"k":"b","x":-0.135,"y":-0.178},{"p":4,"k":"b","x":0.019,"y":-0.173},{"p":4,"k":"b","x":0.173,"y":-0.148},{"p":4,"k":"b","x":0.327,"y":-0.1},{"p":4,"k":"b","x":0.481,"y":-0.012},{"p":4,"k":"b","x":0.635,"y":0.1},{"p":4,"k":"b","x":0.764,"y":0.22},{"p":4,"k":"b","x":0.867,"y":0.32},{"p":4,"k":"b","x":0.944,"y":0.444},{"p":4,"k":"b","x":0.982,"y":0.74},{"p":4,"k":"b","x":1,"y":1},
{"p":4,"k":"r","x":-1,"y":1},{"p":4,"k":"r","x":-0.969,"y":0.765},{"p":4,"k":"r","x":-0.931,"y":0.49},{"p":4,"k":"r","x":-0.879,"y":0.22},{"p":4,"k":"r","x":-0.802,"y":0.05},{"p":4,"k":"r","x":-0.7,"y":-0.03},{"p":4,"k":"r","x":-0.571,"y":-0.044},{"p":4,"k":"r","x":-0.443,"y":-0.03},{"p":4,"k":"r","x":-0.289,"y":-0.012},{"p":4,"k":"r","x":-0.135,"y":0.012},{"p":4,"k":"r","x":0.019,"y":0.042},{"p":4,"k":"r","x":0.173,"y":0.086},{"p":4,"k":"r","x":0.327,"y":0.148},{"p":4,"k":"r","x":0.481,"y":0.22},{"p":4,"k":"r","x":0.635,"y":0.32},{"p":4,"k":"r","x":0.789,"y":0.395},{"p":4,"k":"r","x":0.918,"y":0.48},{"p":4,"k":"r","x":0.969,"y":0.62},{"p":4,"k":"r","x":1,"y":1},

{"p":5,"k":"k","x":-1,"y":1},{"p":5,"k":"k","x":-0.973,"y":0.43},{"p":5,"k":"k","x":-0.932,"y":-0.075},{"p":5,"k":"k","x":-0.878,"y":-0.35},{"p":5,"k":"k","x":-0.796,"y":-0.55},{"p":5,"k":"k","x":-0.688,"y":-0.7},{"p":5,"k":"k","x":-0.552,"y":-0.77},{"p":5,"k":"k","x":-0.417,"y":-0.79},{"p":5,"k":"k","x":-0.281,"y":-0.78},{"p":5,"k":"k","x":-0.145,"y":-0.76},{"p":5,"k":"k","x":-0.009,"y":-0.73},{"p":5,"k":"k","x":0.126,"y":-0.675},{"p":5,"k":"k","x":0.235,"y":-0.575},{"p":5,"k":"k","x":0.343,"y":-0.35},{"p":5,"k":"k","x":0.452,"y":0},{"p":5,"k":"k","x":0.56,"y":0.375},{"p":5,"k":"k","x":0.669,"y":0.61},{"p":5,"k":"k","x":0.777,"y":0.65},{"p":5,"k":"k","x":0.886,"y":0.655},{"p":5,"k":"k","x":0.94,"y":0.7},{"p":5,"k":"k","x":0.981,"y":0.85},{"p":5,"k":"k","x":1,"y":1},
{"p":5,"k":"b","x":-1,"y":1},{"p":5,"k":"b","x":-0.973,"y":0.4},{"p":5,"k":"b","x":-0.932,"y":0.05},{"p":5,"k":"b","x":-0.878,"y":-0.15},{"p":5,"k":"b","x":-0.796,"y":-0.325},{"p":5,"k":"b","x":-0.688,"y":-0.45},{"p":5,"k":"b","x":-0.552,"y":-0.54},{"p":5,"k":"b","x":-0.417,"y":-0.56},{"p":5,"k":"b","x":-0.281,"y":-0.55},{"p":5,"k":"b","x":-0.145,"y":-0.51},{"p":5,"k":"b","x":-0.009,"y":-0.45},{"p":5,"k":"b","x":0.126,"y":-0.36},{"p":5,"k":"b","x":0.262,"y":-0.2},{"p":5,"k":"b","x":0.398,"y":0},{"p":5,"k":"b","x":0.506,"y":0.2},{"p":5,"k":"b","x":0.615,"y":0.325},{"p":5,"k":"b","x":0.723,"y":0.34},{"p":5,"k":"b","x":0.832,"y":0.3},{"p":5,"k":"b","x":0.927,"y":0.3},{"p":5,"k":"b","x":0.967,"y":0.55},{"p":5,"k":"b","x":1,"y":1},
{"p":5,"k":"r","x":-1,"y":1},{"p":5,"k":"r","x":-0.973,"y":0.43},{"p":5,"k":"r","x":-0.932,"y":0.075},{"p":5,"k":"r","x":-0.878,"y":-0.125},{"p":5,"k":"r","x":-0.796,"y":-0.275},{"p":5,"k":"r","x":-0.688,"y":-0.36},{"p":5,"k":"r","x":-0.552,"y":-0.34},{"p":5,"k":"r","x":-0.417,"y":-0.275},{"p":5,"k":"r","x":-0.281,"y":-0.2},{"p":5,"k":"r","x":-0.145,"y":-0.11},{"p":5,"k":"r","x":-0.009,"y":-0.01},{"p":5,"k":"r","x":0.126,"y":0.09},{"p":5,"k":"r","x":0.262,"y":0.21},{"p":5,"k":"r","x":0.398,"y":0.35},{"p":5,"k":"r","x":0.533,"y":0.45},{"p":5,"k":"r","x":0.642,"y":0.49},{"p":5,"k":"r","x":0.723,"y":0.46},{"p":5,"k":"r","x":0.832,"y":0.375},{"p":5,"k":"r","x":0.927,"y":0.275},{"p":5,"k":"r","x":0.967,"y":0.55},{"p":5,"k":"r","x":1,"y":1},

{"p":6,"k":"k","x":-1,"y":1},{"p":6,"k":"k","x":-0.973,"y":0.3},{"p":6,"k":"k","x":-0.938,"y":-0.25},{"p":6,"k":"k","x":-0.884,"y":-0.575},{"p":6,"k":"k","x":-0.79,"y":-0.775},{"p":6,"k":"k","x":-0.655,"y":-0.875},{"p":6,"k":"k","x":-0.521,"y":-0.9},{"p":6,"k":"k","x":-0.386,"y":-0.895},{"p":6,"k":"k","x":-0.252,"y":-0.86},{"p":6,"k":"k","x":-0.117,"y":-0.8},{"p":6,"k":"k","x":0.017,"y":-0.7},{"p":6,"k":"k","x":0.152,"y":-0.5},{"p":6,"k":"k","x":0.26,"y":-0.15},{"p":6,"k":"k","x":0.367,"y":0.225},{"p":6,"k":"k","x":0.475,"y":0.34},{"p":6,"k":"k","x":0.583,"y":0.325},{"p":6,"k":"k","x":0.69,"y":0.225},{"p":6,"k":"k","x":0.798,"y":0.14},{"p":6,"k":"k","x":0.879,"y":0.11},{"p":6,"k":"k","x":0.933,"y":0.125},{"p":6,"k":"k","x":0.973,"y":0.43},{"p":6,"k":"k","x":1,"y":1},
{"p":6,"k":"b","x":-1,"y":1},{"p":6,"k":"b","x":-0.973,"y":0.35},{"p":6,"k":"b","x":-0.938,"y":-0.175},{"p":6,"k":"b","x":-0.884,"y":-0.5},{"p":6,"k":"b","x":-0.79,"y":-0.7},{"p":6,"k":"b","x":-0.655,"y":-0.81},{"p":6,"k":"b","x":-0.521,"y":-0.855},{"p":6,"k":"b","x":-0.386,"y":-0.86},{"p":6,"k":"b","x":-0.252,"y":-0.825},{"p":6,"k":"b","x":-0.117,"y":-0.76},{"p":6,"k":"b","x":0.017,"y":-0.65},{"p":6,"k":"b","x":0.152,"y":-0.45},{"p":6,"k":"b","x":0.26,"y":-0.2},{"p":6,"k":"b","x":0.367,"y":0.05},{"p":6,"k":"b","x":0.475,"y":0.16},{"p":6,"k":"b","x":0.583,"y":0.14},{"p":6,"k":"b","x":0.69,"y":0.025},{"p":6,"k":"b","x":0.798,"y":-0.125},{"p":6,"k":"b","x":0.906,"y":-0.225},{"p":6,"k":"b","x":0.946,"y":-0.2},{"p":6,"k":"b","x":0.981,"y":0.43},{"p":6,"k":"b","x":1,"y":1},
{"p":6,"k":"r","x":-1,"y":1},{"p":6,"k":"r","x":-0.973,"y":0.4},{"p":6,"k":"r","x":-0.938,"y":-0.1},{"p":6,"k":"r","x":-0.884,"y":-0.425},{"p":6,"k":"r","x":-0.79,"y":-0.61},{"p":6,"k":"r","x":-0.655,"y":-0.67},{"p":6,"k":"r","x":-0.521,"y":-0.65},{"p":6,"k":"r","x":-0.386,"y":-0.575},{"p":6,"k":"r","x":-0.252,"y":-0.46},{"p":6,"k":"r","x":-0.117,"y":-0.34},{"p":6,"k":"r","x":0.017,"y":-0.19},{"p":6,"k":"r","x":0.152,"y":-0.025},{"p":6,"k":"r","x":0.26,"y":0.125},{"p":6,"k":"r","x":0.367,"y":0.25},{"p":6,"k":"r","x":0.475,"y":0.29},{"p":6,"k":"r","x":0.583,"y":0.225},{"p":6,"k":"r","x":0.69,"y":0.075},{"p":6,"k":"r","x":0.798,"y":-0.075},{"p":6,"k":"r","x":0.906,"y":-0.175},{"p":6,"k":"r","x":0.946,"y":-0.15},{"p":6,"k":"r","x":0.981,"y":0.3},{"p":6,"k":"r","x":1,"y":1},

{"p":7,"k":"k","x":-1,"y":1},{"p":7,"k":"k","x":-0.982,"y":0.55},{"p":7,"k":"k","x":-0.956,"y":-0.2},{"p":7,"k":"k","x":-0.91,"y":-0.575},{"p":7,"k":"k","x":-0.833,"y":-0.775},{"p":7,"k":"k","x":-0.73,"y":-0.85},{"p":7,"k":"k","x":-0.602,"y":-0.86},{"p":7,"k":"k","x":-0.473,"y":-0.84},{"p":7,"k":"k","x":-0.344,"y":-0.775},{"p":7,"k":"k","x":-0.216,"y":-0.69},{"p":7,"k":"k","x":-0.087,"y":-0.55},{"p":7,"k":"k","x":0.041,"y":-0.35},{"p":7,"k":"k","x":0.17,"y":-0.15},{"p":7,"k":"k","x":0.272,"y":-0.012},{"p":7,"k":"k","x":0.375,"y":0.05},{"p":7,"k":"k","x":0.478,"y":0.038},{"p":7,"k":"k","x":0.581,"y":-0.012},{"p":7,"k":"k","x":0.684,"y":-0.075},{"p":7,"k":"k","x":0.787,"y":-0.14},{"p":7,"k":"k","x":0.889,"y":-0.19},{"p":7,"k":"k","x":0.954,"y":-0.195},{"p":7,"k":"k","x":0.987,"y":0.05},{"p":7,"k":"k","x":1,"y":1},
{"p":7,"k":"b","x":-1,"y":1},{"p":7,"k":"b","x":-0.982,"y":0.5},{"p":7,"k":"b","x":-0.956,"y":-0.25},{"p":7,"k":"b","x":-0.91,"y":-0.6},{"p":7,"k":"b","x":-0.833,"y":-0.75},{"p":7,"k":"b","x":-0.73,"y":-0.825},{"p":7,"k":"b","x":-0.602,"y":-0.83},{"p":7,"k":"b","x":-0.473,"y":-0.79},{"p":7,"k":"b","x":-0.344,"y":-0.71},{"p":7,"k":"b","x":-0.216,"y":-0.6},{"p":7,"k":"b","x":-0.087,"y":-0.44},{"p":7,"k":"b","x":0.041,"y":-0.25},{"p":7,"k":"b","x":0.17,"y":-0.088},{"p":7,"k":"b","x":0.298,"y":0.012},{"p":7,"k":"b","x":0.401,"y":-0.012},{"p":7,"k":"b","x":0.53,"y":-0.1},{"p":7,"k":"b","x":0.658,"y":-0.225},{"p":7,"k":"b","x":0.787,"y":-0.35},{"p":7,"k":"b","x":0.889,"y":-0.45},{"p":7,"k":"b","x":0.941,"y":-0.49},{"p":7,"k":"b","x":0.979,"y":-0.425},{"p":7,"k":"b","x":1,"y":1},
{"p":7,"k":"r","x":-1,"y":1},{"p":7,"k":"r","x":-0.982,"y":0.45},{"p":7,"k":"r","x":-0.956,"y":-0.25},{"p":7,"k":"r","x":-0.91,"y":-0.55},{"p":7,"k":"r","x":-0.833,"y":-0.7},{"p":7,"k":"r","x":-0.73,"y":-0.77},{"p":7,"k":"r","x":-0.602,"y":-0.75},{"p":7,"k":"r","x":-0.473,"y":-0.69},{"p":7,"k":"r","x":-0.344,"y":-0.6},{"p":7,"k":"r","x":-0.216,"y":-0.475},{"p":7,"k":"r","x":-0.087,"y":-0.31},{"p":7,"k":"r","x":0.041,"y":-0.15},{"p":7,"k":"r","x":0.17,"y":-0.025},{"p":7,"k":"r","x":0.272,"y":0.005},{"p":7,"k":"r","x":0.375,"y":-0.025},{"p":7,"k":"r","x":0.504,"y":-0.11},{"p":7,"k":"r","x":0.632,"y":-0.225},{"p":7,"k":"r","x":0.761,"y":-0.325},{"p":7,"k":"r","x":0.889,"y":-0.38},{"p":7,"k":"r","x":0.941,"y":-0.38},{"p":7,"k":"r","x":0.979,"y":-0.075},{"p":7,"k":"r","x":1,"y":1},

{"p":8,"k":"k","x":-1,"y":1},{"p":8,"k":"k","x":-0.969,"y":0.43},{"p":8,"k":"k","x":-0.931,"y":-0.075},{"p":8,"k":"k","x":-0.879,"y":-0.4},{"p":8,"k":"k","x":-0.802,"y":-0.625},{"p":8,"k":"k","x":-0.7,"y":-0.76},{"p":8,"k":"k","x":-0.571,"y":-0.79},{"p":8,"k":"k","x":-0.443,"y":-0.725},{"p":8,"k":"k","x":-0.314,"y":-0.575},{"p":8,"k":"k","x":-0.186,"y":-0.35},{"p":8,"k":"k","x":-0.058,"y":-0.125},{"p":8,"k":"k","x":0.071,"y":0.025},{"p":8,"k":"k","x":0.199,"y":0.11},{"p":8,"k":"k","x":0.302,"y":0.14},{"p":8,"k":"k","x":0.404,"y":0.11},{"p":8,"k":"k","x":0.533,"y":0.025},{"p":8,"k":"k","x":0.661,"y":-0.088},{"p":8,"k":"k","x":0.789,"y":-0.16},{"p":8,"k":"k","x":0.892,"y":-0.195},{"p":8,"k":"k","x":0.956,"y":-0.19},{"p":8,"k":"k","x":0.982,"y":0.05},{"p":8,"k":"k","x":1,"y":0.3},
{"p":8,"k":"b","x":-1,"y":1},{"p":8,"k":"b","x":-0.969,"y":0.4},{"p":8,"k":"b","x":-0.931,"y":-0.125},{"p":8,"k":"b","x":-0.879,"y":-0.45},{"p":8,"k":"b","x":-0.802,"y":-0.675},{"p":8,"k":"b","x":-0.7,"y":-0.8},{"p":8,"k":"b","x":-0.571,"y":-0.81},{"p":8,"k":"b","x":-0.443,"y":-0.74},{"p":8,"k":"b","x":-0.314,"y":-0.59},{"p":8,"k":"b","x":-0.186,"y":-0.375},{"p":8,"k":"b","x":-0.058,"y":-0.175},{"p":8,"k":"b","x":0.071,"y":-0.05},{"p":8,"k":"b","x":0.199,"y":-0.012},{"p":8,"k":"b","x":0.302,"y":-0.025},{"p":8,"k":"b","x":0.404,"y":-0.088},{"p":8,"k":"b","x":0.533,"y":-0.2},{"p":8,"k":"b","x":0.661,"y":-0.31},{"p":8,"k":"b","x":0.789,"y":-0.4},{"p":8,"k":"b","x":0.892,"y":-0.44},{"p":8,"k":"b","x":0.943,"y":-0.425},{"p":8,"k":"b","x":0.982,"y":-0.2},{"p":8,"k":"b","x":1,"y":0.4},
{"p":8,"k":"r","x":-1,"y":1},{"p":8,"k":"r","x":-0.969,"y":0.45},{"p":8,"k":"r","x":-0.931,"y":-0.1},{"p":8,"k":"r","x":-0.879,"y":-0.425},{"p":8,"k":"r","x":-0.802,"y":-0.64},{"p":8,"k":"r","x":-0.7,"y":-0.76},{"p":8,"k":"r","x":-0.571,"y":-0.775},{"p":8,"k":"r","x":-0.443,"y":-0.71},{"p":8,"k":"r","x":-0.314,"y":-0.575},{"p":8,"k":"r","x":-0.186,"y":-0.375},{"p":8,"k":"r","x":-0.058,"y":-0.2},{"p":8,"k":"r","x":0.071,"y":-0.1},{"p":8,"k":"r","x":0.199,"y":-0.088},{"p":8,"k":"r","x":0.302,"y":-0.12},{"p":8,"k":"r","x":0.404,"y":-0.19},{"p":8,"k":"r","x":0.533,"y":-0.29},{"p":8,"k":"r","x":0.661,"y":-0.36},{"p":8,"k":"r","x":0.789,"y":-0.41},{"p":8,"k":"r","x":0.892,"y":-0.42},{"p":8,"k":"r","x":0.956,"y":-0.39},{"p":8,"k":"r","x":0.99,"y":0.05},{"p":8,"k":"r","x":1,"y":0.5},

{"p":9,"k":"k","x":-1,"y":1},{"p":9,"k":"k","x":-0.959,"y":0.56},{"p":9,"k":"k","x":-0.905,"y":0.11},{"p":9,"k":"k","x":-0.851,"y":-0.19},{"p":9,"k":"k","x":-0.769,"y":-0.485},{"p":9,"k":"k","x":-0.688,"y":-0.635},{"p":9,"k":"k","x":-0.607,"y":-0.67},{"p":9,"k":"k","x":-0.525,"y":-0.67},{"p":9,"k":"k","x":-0.417,"y":-0.635},{"p":9,"k":"k","x":-0.308,"y":-0.535},{"p":9,"k":"k","x":-0.2,"y":-0.335},{"p":9,"k":"k","x":-0.091,"y":-0.087},{"p":9,"k":"k","x":0.018,"y":0.124},{"p":9,"k":"k","x":0.126,"y":0.26},{"p":9,"k":"k","x":0.235,"y":0.286},{"p":9,"k":"k","x":0.343,"y":0.236},{"p":9,"k":"k","x":0.452,"y":0.124},{"p":9,"k":"k","x":0.56,"y":0.012},{"p":9,"k":"k","x":0.669,"y":-0.075},{"p":9,"k":"k","x":0.777,"y":-0.124},{"p":9,"k":"k","x":0.886,"y":-0.14},{"p":9,"k":"k","x":0.954,"y":-0.124},{"p":9,"k":"k","x":0.981,"y":0.31},{"p":9,"k":"k","x":1,"y":1},
{"p":9,"k":"b","x":-1,"y":1},{"p":9,"k":"b","x":-0.959,"y":0.56},{"p":9,"k":"b","x":-0.905,"y":0.11},{"p":9,"k":"b","x":-0.851,"y":-0.2},{"p":9,"k":"b","x":-0.769,"y":-0.51},{"p":9,"k":"b","x":-0.688,"y":-0.67},{"p":9,"k":"b","x":-0.607,"y":-0.72},{"p":9,"k":"b","x":-0.525,"y":-0.714},{"p":9,"k":"b","x":-0.417,"y":-0.66},{"p":9,"k":"b","x":-0.308,"y":-0.535},{"p":9,"k":"b","x":-0.2,"y":-0.36},{"p":9,"k":"b","x":-0.091,"y":-0.16},{"p":9,"k":"b","x":0.018,"y":0},{"p":9,"k":"b","x":0.126,"y":0.062},{"p":9,"k":"b","x":0.235,"y":0.05},{"p":9,"k":"b","x":0.343,"y":0},{"p":9,"k":"b","x":0.452,"y":-0.075},{"p":9,"k":"b","x":0.56,"y":-0.15},{"p":9,"k":"b","x":0.669,"y":-0.2},{"p":9,"k":"b","x":0.777,"y":-0.224},{"p":9,"k":"b","x":0.886,"y":-0.224},{"p":9,"k":"b","x":0.954,"y":-0.137},{"p":9,"k":"b","x":0.981,"y":0.31},{"p":9,"k":"b","x":1,"y":1},
{"p":9,"k":"r","x":-1,"y":1},{"p":9,"k":"r","x":-0.959,"y":0.56},{"p":9,"k":"r","x":-0.905,"y":0.11},{"p":9,"k":"r","x":-0.851,"y":-0.21},{"p":9,"k":"r","x":-0.769,"y":-0.535},{"p":9,"k":"r","x":-0.688,"y":-0.71},{"p":9,"k":"r","x":-0.607,"y":-0.77},{"p":9,"k":"r","x":-0.525,"y":-0.78},{"p":9,"k":"r","x":-0.417,"y":-0.73},{"p":9,"k":"r","x":-0.308,"y":-0.61},{"p":9,"k":"r","x":-0.2,"y":-0.41},{"p":9,"k":"r","x":-0.091,"y":-0.187},{"p":9,"k":"r","x":0.018,"y":-0.037},{"p":9,"k":"r","x":0.126,"y":0},{"p":9,"k":"r","x":0.235,"y":-0.037},{"p":9,"k":"r","x":0.343,"y":-0.124},{"p":9,"k":"r","x":0.452,"y":-0.21},{"p":9,"k":"r","x":0.56,"y":-0.274},{"p":9,"k":"r","x":0.669,"y":-0.31},{"p":9,"k":"r","x":0.777,"y":-0.31},{"p":9,"k":"r","x":0.886,"y":-0.274},{"p":9,"k":"r","x":0.954,"y":-0.187},{"p":9,"k":"r","x":0.981,"y":0.31},{"p":9,"k":"r","x":1,"y":1},

{"p":10,"k":"k","x":-1,"y":1},{"p":10,"k":"k","x":-0.965,"y":0.56},{"p":10,"k":"k","x":-0.911,"y":0.062},{"p":10,"k":"k","x":-0.844,"y":-0.26},{"p":10,"k":"k","x":-0.763,"y":-0.485},{"p":10,"k":"k","x":-0.655,"y":-0.585},{"p":10,"k":"k","x":-0.548,"y":-0.585},{"p":10,"k":"k","x":-0.44,"y":-0.535},{"p":10,"k":"k","x":-0.332,"y":-0.435},{"p":10,"k":"k","x":-0.225,"y":-0.26},{"p":10,"k":"k","x":-0.117,"y":-0.062},{"p":10,"k":"k","x":-0.009,"y":0.137},{"p":10,"k":"k","x":0.098,"y":0.26},{"p":10,"k":"k","x":0.206,"y":0.306},{"p":10,"k":"k","x":0.314,"y":0.274},{"p":10,"k":"k","x":0.421,"y":0.2},{"p":10,"k":"k","x":0.529,"y":0.1},{"p":10,"k":"k","x":0.637,"y":0},{"p":10,"k":"k","x":0.744,"y":-0.1},{"p":10,"k":"k","x":0.852,"y":-0.167},{"p":10,"k":"k","x":0.919,"y":-0.174},{"p":10,"k":"k","x":0.96,"y":-0.062},{"p":10,"k":"k","x":1,"y":1},
{"p":10,"k":"b","x":-1,"y":1},{"p":10,"k":"b","x":-0.965,"y":0.56},{"p":10,"k":"b","x":-0.911,"y":0.062},{"p":10,"k":"b","x":-0.844,"y":-0.286},{"p":10,"k":"b","x":-0.763,"y":-0.485},{"p":10,"k":"b","x":-0.655,"y":-0.61},{"p":10,"k":"b","x":-0.548,"y":-0.6},{"p":10,"k":"b","x":-0.44,"y":-0.51},{"p":10,"k":"b","x":-0.332,"y":-0.336},{"p":10,"k":"b","x":-0.225,"y":-0.16},{"p":10,"k":"b","x":-0.117,"y":-0.037},{"p":10,"k":"b","x":-0.009,"y":0.037},{"p":10,"k":"b","x":0.098,"y":0.062},{"p":10,"k":"b","x":0.206,"y":0.067},{"p":10,"k":"b","x":0.314,"y":0.057},{"p":10,"k":"b","x":0.421,"y":0.032},{"p":10,"k":"b","x":0.529,"y":0},{"p":10,"k":"b","x":0.637,"y":-0.037},{"p":10,"k":"b","x":0.744,"y":-0.082},{"p":10,"k":"b","x":0.825,"y":-0.1},{"p":10,"k":"b","x":0.879,"y":-0.075},{"p":10,"k":"b","x":0.946,"y":0.062},{"p":10,"k":"b","x":1,"y":1},
{"p":10,"k":"r","x":-1,"y":1},{"p":10,"k":"r","x":-0.965,"y":0.56},{"p":10,"k":"r","x":-0.911,"y":0.062},{"p":10,"k":"r","x":-0.844,"y":-0.31},{"p":10,"k":"r","x":-0.763,"y":-0.585},{"p":10,"k":"r","x":-0.655,"y":-0.77},{"p":10,"k":"r","x":-0.548,"y":-0.845},{"p":10,"k":"r","x":-0.44,"y":-0.78},{"p":10,"k":"r","x":-0.332,"y":-0.585},{"p":10,"k":"r","x":-0.225,"y":-0.336},{"p":10,"k":"r","x":-0.117,"y":-0.112},{"p":10,"k":"r","x":-0.009,"y":0},{"p":10,"k":"r","x":0.098,"y":0.025},{"p":10,"k":"r","x":0.206,"y":-0.007},{"p":10,"k":"r","x":0.314,"y":-0.075},{"p":10,"k":"r","x":0.421,"y":-0.137},{"p":10,"k":"r","x":0.529,"y":-0.18},{"p":10,"k":"r","x":0.637,"y":-0.206},{"p":10,"k":"r","x":0.744,"y":-0.216},{"p":10,"k":"r","x":0.852,"y":-0.2},{"p":10,"k":"r","x":0.919,"y":-0.16},{"p":10,"k":"r","x":0.96,"y":0.062},{"p":10,"k":"r","x":1,"y":1},

{"p":11,"k":"k","x":-1,"y":1},{"p":11,"k":"k","x":-0.974,"y":0.56},{"p":11,"k":"k","x":-0.936,"y":0.062},{"p":11,"k":"k","x":-0.884,"y":-0.26},{"p":11,"k":"k","x":-0.807,"y":-0.41},{"p":11,"k":"k","x":-0.704,"y":-0.465},{"p":11,"k":"k","x":-0.576,"y":-0.46},{"p":11,"k":"k","x":-0.447,"y":-0.41},{"p":11,"k":"k","x":-0.319,"y":-0.31},{"p":11,"k":"k","x":-0.19,"y":-0.16},{"p":11,"k":"k","x":-0.062,"y":0.012},{"p":11,"k":"k","x":0.067,"y":0.137},{"p":11,"k":"k","x":0.195,"y":0.2},{"p":11,"k":"k","x":0.298,"y":0.2},{"p":11,"k":"k","x":0.401,"y":0.15},{"p":11,"k":"k","x":0.504,"y":0.062},{"p":11,"k":"k","x":0.607,"y":-0.062},{"p":11,"k":"k","x":0.71,"y":-0.187},{"p":11,"k":"k","x":0.787,"y":-0.26},{"p":11,"k":"k","x":0.864,"y":-0.26},{"p":11,"k":"k","x":0.928,"y":-0.16},{"p":11,"k":"k","x":0.967,"y":0.187},{"p":11,"k":"k","x":1,"y":1},
{"p":11,"k":"b","x":-1,"y":1},{"p":11,"k":"b","x":-0.974,"y":0.56},{"p":11,"k":"b","x":-0.936,"y":0.062},{"p":11,"k":"b","x":-0.884,"y":-0.26},{"p":11,"k":"b","x":-0.807,"y":-0.435},{"p":11,"k":"b","x":-0.704,"y":-0.535},{"p":11,"k":"b","x":-0.627,"y":-0.535},{"p":11,"k":"b","x":-0.55,"y":-0.46},{"p":11,"k":"b","x":-0.447,"y":-0.286},{"p":11,"k":"b","x":-0.344,"y":-0.16},{"p":11,"k":"b","x":-0.242,"y":-0.137},{"p":11,"k":"b","x":-0.113,"y":-0.137},{"p":11,"k":"b","x":0.015,"y":-0.124},{"p":11,"k":"b","x":0.144,"y":-0.087},{"p":11,"k":"b","x":0.272,"y":-0.037},{"p":11,"k":"b","x":0.401,"y":0},{"p":11,"k":"b","x":0.504,"y":0.012},{"p":11,"k":"b","x":0.607,"y":-0.037},{"p":11,"k":"b","x":0.71,"y":-0.087},{"p":11,"k":"b","x":0.787,"y":-0.087},{"p":11,"k":"b","x":0.864,"y":-0.037},{"p":11,"k":"b","x":0.928,"y":0.112},{"p":11,"k":"b","x":0.967,"y":0.435},{"p":11,"k":"b","x":1,"y":1},
{"p":11,"k":"r","x":-1,"y":1},{"p":11,"k":"r","x":-0.974,"y":0.56},{"p":11,"k":"r","x":-0.936,"y":0.012},{"p":11,"k":"r","x":-0.884,"y":-0.336},{"p":11,"k":"r","x":-0.807,"y":-0.585},{"p":11,"k":"r","x":-0.704,"y":-0.785},{"p":11,"k":"r","x":-0.576,"y":-0.86},{"p":11,"k":"r","x":-0.473,"y":-0.81},{"p":11,"k":"r","x":-0.37,"y":-0.635},{"p":11,"k":"r","x":-0.267,"y":-0.385},{"p":11,"k":"r","x":-0.165,"y":-0.187},{"p":11,"k":"r","x":-0.062,"y":-0.124},{"p":11,"k":"r","x":0.067,"y":-0.107},{"p":11,"k":"r","x":0.195,"y":-0.112},{"p":11,"k":"r","x":0.324,"y":-0.132},{"p":11,"k":"r","x":0.452,"y":-0.157},{"p":11,"k":"r","x":0.581,"y":-0.18},{"p":11,"k":"r","x":0.71,"y":-0.206},{"p":11,"k":"r","x":0.812,"y":-0.224},{"p":11,"k":"r","x":0.889,"y":-0.2},{"p":11,"k":"r","x":0.941,"y":-0.112},{"p":11,"k":"r","x":0.979,"y":0.31},{"p":11,"k":"r","x":1,"y":1},

{"p":12,"k":"k","x":-1,"y":1},{"p":12,"k":"k","x":-0.969,"y":0.435},{"p":12,"k":"k","x":-0.931,"y":-0.062},{"p":12,"k":"k","x":-0.879,"y":-0.31},{"p":12,"k":"k","x":-0.828,"y":-0.4},{"p":12,"k":"k","x":-0.777,"y":-0.385},{"p":12,"k":"k","x":-0.674,"y":-0.286},{"p":12,"k":"k","x":-0.546,"y":-0.112},{"p":12,"k":"k","x":-0.443,"y":-0.012},{"p":12,"k":"k","x":-0.366,"y":-0.007},{"p":12,"k":"k","x":-0.263,"y":-0.087},{"p":12,"k":"k","x":-0.16,"y":-0.187},{"p":12,"k":"k","x":-0.058,"y":-0.23},{"p":12,"k":"k","x":0.045,"y":-0.224},{"p":12,"k":"k","x":0.148,"y":-0.174},{"p":12,"k":"k","x":0.25,"y":-0.087},{"p":12,"k":"k","x":0.353,"y":0.012},{"p":12,"k":"k","x":0.43,"y":0.025},{"p":12,"k":"k","x":0.507,"y":-0.037},{"p":12,"k":"k","x":0.61,"y":-0.236},{"p":12,"k":"k","x":0.712,"y":-0.373},{"p":12,"k":"k","x":0.789,"y":-0.4},{"p":12,"k":"k","x":0.867,"y":-0.373},{"p":12,"k":"k","x":0.931,"y":-0.236},{"p":12,"k":"k","x":0.969,"y":0.012},{"p":12,"k":"k","x":1,"y":0.9},
{"p":12,"k":"b","x":-1,"y":1},{"p":12,"k":"b","x":-0.969,"y":0.435},{"p":12,"k":"b","x":-0.931,"y":-0.112},{"p":12,"k":"b","x":-0.879,"y":-0.41},{"p":12,"k":"b","x":-0.802,"y":-0.585},{"p":12,"k":"b","x":-0.725,"y":-0.57},{"p":12,"k":"b","x":-0.648,"y":-0.435},{"p":12,"k":"b","x":-0.546,"y":-0.187},{"p":12,"k":"b","x":-0.443,"y":0.062},{"p":12,"k":"b","x":-0.379,"y":0.124},{"p":12,"k":"b","x":-0.314,"y":0.075},{"p":12,"k":"b","x":-0.237,"y":-0.087},{"p":12,"k":"b","x":-0.135,"y":-0.31},{"p":12,"k":"b","x":-0.032,"y":-0.435},{"p":12,"k":"b","x":0.071,"y":-0.49},{"p":12,"k":"b","x":0.173,"y":-0.485},{"p":12,"k":"b","x":0.276,"y":-0.41},{"p":12,"k":"b","x":0.379,"y":-0.26},{"p":12,"k":"b","x":0.481,"y":-0.112},{"p":12,"k":"b","x":0.584,"y":-0.087},{"p":12,"k":"b","x":0.687,"y":-0.112},{"p":12,"k":"b","x":0.789,"y":-0.124},{"p":12,"k":"b","x":0.892,"y":-0.075},{"p":12,"k":"b","x":0.956,"y":0.112},{"p":12,"k":"b","x":1,"y":1},
{"p":12,"k":"r","x":-1,"y":1},{"p":12,"k":"r","x":-0.969,"y":0.45},{"p":12,"k":"r","x":-0.931,"y":-0.112},{"p":12,"k":"r","x":-0.879,"y":-0.435},{"p":12,"k":"r","x":-0.802,"y":-0.635},{"p":12,"k":"r","x":-0.7,"y":-0.697},{"p":12,"k":"r","x":-0.597,"y":-0.635},{"p":12,"k":"r","x":-0.494,"y":-0.5},{"p":12,"k":"r","x":-0.392,"y":-0.385},{"p":12,"k":"r","x":-0.289,"y":-0.356},{"p":12,"k":"r","x":-0.186,"y":-0.373},{"p":12,"k":"r","x":-0.083,"y":-0.4},{"p":12,"k":"r","x":0.019,"y":-0.415},{"p":12,"k":"r","x":0.122,"y":-0.42},{"p":12,"k":"r","x":0.225,"y":-0.385},{"p":12,"k":"r","x":0.327,"y":-0.31},{"p":12,"k":"r","x":0.43,"y":-0.24},{"p":12,"k":"r","x":0.533,"y":-0.21},{"p":12,"k":"r","x":0.635,"y":-0.236},{"p":12,"k":"r","x":0.738,"y":-0.274},{"p":12,"k":"r","x":0.841,"y":-0.3},{"p":12,"k":"r","x":0.931,"y":-0.286},{"p":12,"k":"r","x":0.969,"y":-0.062},{"p":12,"k":"r","x":1,"y":1},

{"p":13,"k":"k","x":-1,"y":1},{"p":13,"k":"k","x":-0.973,"y":0.53},{"p":13,"k":"k","x":-0.932,"y":-0.03},{"p":13,"k":"k","x":-0.878,"y":-0.31},{"p":13,"k":"k","x":-0.796,"y":-0.43},{"p":13,"k":"k","x":-0.715,"y":-0.34},{"p":13,"k":"k","x":-0.634,"y":-0.03},{"p":13,"k":"k","x":-0.552,"y":0.33},{"p":13,"k":"k","x":-0.498,"y":0.51},{"p":13,"k":"k","x":-0.444,"y":0.546},{"p":13,"k":"k","x":-0.389,"y":0.48},{"p":13,"k":"k","x":-0.308,"y":0.277},{"p":13,"k":"k","x":-0.199,"y":-0.005},{"p":13,"k":"k","x":-0.091,"y":-0.185},{"p":13,"k":"k","x":0.018,"y":-0.3},{"p":13,"k":"k","x":0.126,"y":-0.35},{"p":13,"k":"k","x":0.235,"y":-0.34},{"p":13,"k":"k","x":0.343,"y":-0.26},{"p":13,"k":"k","x":0.438,"y":-0.146},{"p":13,"k":"k","x":0.506,"y":-0.16},{"p":13,"k":"k","x":0.588,"y":-0.31},{"p":13,"k":"k","x":0.669,"y":-0.44},{"p":13,"k":"k","x":0.75,"y":-0.415},{"p":13,"k":"k","x":0.832,"y":-0.185},{"p":13,"k":"k","x":0.913,"y":0.2},{"p":13,"k":"k","x":0.967,"y":0.66},{"p":13,"k":"k","x":1,"y":1},
{"p":13,"k":"b","x":-1,"y":1},{"p":13,"k":"b","x":-0.973,"y":0.48},{"p":13,"k":"b","x":-0.932,"y":-0.08},{"p":13,"k":"b","x":-0.878,"y":-0.39},{"p":13,"k":"b","x":-0.796,"y":-0.564},{"p":13,"k":"b","x":-0.742,"y":-0.53},{"p":13,"k":"b","x":-0.661,"y":-0.287},{"p":13,"k":"b","x":-0.579,"y":0.072},{"p":13,"k":"b","x":-0.498,"y":0.354},{"p":13,"k":"b","x":-0.444,"y":0.38},{"p":13,"k":"b","x":-0.389,"y":0.33},{"p":13,"k":"b","x":-0.308,"y":0.123},{"p":13,"k":"b","x":-0.199,"y":-0.108},{"p":13,"k":"b","x":-0.091,"y":-0.313},{"p":13,"k":"b","x":0.018,"y":-0.49},{"p":13,"k":"b","x":0.126,"y":-0.633},{"p":13,"k":"b","x":0.235,"y":-0.75},{"p":13,"k":"b","x":0.316,"y":-0.76},{"p":13,"k":"b","x":0.398,"y":-0.54},{"p":13,"k":"b","x":0.479,"y":-0.056},{"p":13,"k":"b","x":0.547,"y":-0.005},{"p":13,"k":"b","x":0.615,"y":-0.095},{"p":13,"k":"b","x":0.696,"y":-0.146},{"p":13,"k":"b","x":0.777,"y":-0.133},{"p":13,"k":"b","x":0.859,"y":-0.03},{"p":13,"k":"b","x":0.94,"y":0.277},{"p":13,"k":"b","x":0.981,"y":0.66},{"p":13,"k":"b","x":1,"y":1},
{"p":13,"k":"r","x":-1,"y":1},{"p":13,"k":"r","x":-0.973,"y":0.48},{"p":13,"k":"r","x":-0.932,"y":-0.108},{"p":13,"k":"r","x":-0.878,"y":-0.39},{"p":13,"k":"r","x":-0.796,"y":-0.505},{"p":13,"k":"r","x":-0.715,"y":-0.518},{"p":13,"k":"r","x":-0.634,"y":-0.44},{"p":13,"k":"r","x":-0.552,"y":-0.287},{"p":13,"k":"r","x":-0.471,"y":-0.185},{"p":13,"k":"r","x":-0.417,"y":-0.17},{"p":13,"k":"r","x":-0.335,"y":-0.21},{"p":13,"k":"r","x":-0.227,"y":-0.338},{"p":13,"k":"r","x":-0.091,"y":-0.49},{"p":13,"k":"r","x":0.045,"y":-0.607},{"p":13,"k":"r","x":0.153,"y":-0.67},{"p":13,"k":"r","x":0.262,"y":-0.7},{"p":13,"k":"r","x":0.343,"y":-0.646},{"p":13,"k":"r","x":0.425,"y":-0.338},{"p":13,"k":"r","x":0.506,"y":-0.16},{"p":13,"k":"r","x":0.588,"y":-0.21},{"p":13,"k":"r","x":0.696,"y":-0.31},{"p":13,"k":"r","x":0.805,"y":-0.364},{"p":13,"k":"r","x":0.913,"y":-0.35},{"p":13,"k":"r","x":0.967,"y":-0.287},{"p":13,"k":"r","x":0.989,"y":0.53},{"p":13,"k":"r","x":1,"y":1},

{"p":14,"k":"b","x":-1,"y":1},{"p":14,"k":"b","x":-0.973,"y":0.405},{"p":14,"k":"b","x":-0.938,"y":-0.108},{"p":14,"k":"b","x":-0.884,"y":-0.44},{"p":14,"k":"b","x":-0.817,"y":-0.595},{"p":14,"k":"b","x":-0.763,"y":-0.544},{"p":14,"k":"b","x":-0.682,"y":-0.236},{"p":14,"k":"b","x":-0.602,"y":0.226},{"p":14,"k":"b","x":-0.534,"y":0.48},{"p":14,"k":"b","x":-0.467,"y":0.546},{"p":14,"k":"b","x":-0.386,"y":0.43},{"p":14,"k":"b","x":-0.279,"y":0.149},{"p":14,"k":"b","x":-0.171,"y":-0.133},{"p":14,"k":"b","x":-0.063,"y":-0.35},{"p":14,"k":"b","x":0.044,"y":-0.544},{"p":14,"k":"b","x":0.152,"y":-0.723},{"p":14,"k":"b","x":0.26,"y":-0.877},{"p":14,"k":"b","x":0.327,"y":-0.9},{"p":14,"k":"b","x":0.381,"y":-0.75},{"p":14,"k":"b","x":0.448,"y":-0.287},{"p":14,"k":"b","x":0.502,"y":0.02},{"p":14,"k":"b","x":0.542,"y":0.085},{"p":14,"k":"b","x":0.61,"y":0.02},{"p":14,"k":"b","x":0.69,"y":-0.056},{"p":14,"k":"b","x":0.771,"y":-0.095},{"p":14,"k":"b","x":0.852,"y":-0.056},{"p":14,"k":"b","x":0.933,"y":0.174},{"p":14,"k":"b","x":0.973,"y":0.53},{"p":14,"k":"b","x":1,"y":1},
{"p":14,"k":"r","x":-1,"y":1},{"p":14,"k":"r","x":-0.973,"y":0.405},{"p":14,"k":"r","x":-0.938,"y":-0.056},{"p":14,"k":"r","x":-0.871,"y":-0.326},{"p":14,"k":"r","x":-0.804,"y":-0.39},{"p":14,"k":"r","x":-0.736,"y":-0.26},{"p":14,"k":"r","x":-0.655,"y":-0.056},{"p":14,"k":"r","x":-0.575,"y":0.06},{"p":14,"k":"r","x":-0.534,"y":0.077},{"p":14,"k":"r","x":-0.467,"y":0.02},{"p":14,"k":"r","x":-0.386,"y":-0.21},{"p":14,"k":"r","x":-0.279,"y":-0.467},{"p":14,"k":"r","x":-0.171,"y":-0.595},{"p":14,"k":"r","x":-0.063,"y":-0.67},{"p":14,"k":"r","x":0.044,"y":-0.75},{"p":14,"k":"r","x":0.152,"y":-0.826},{"p":14,"k":"r","x":0.26,"y":-0.89},{"p":14,"k":"r","x":0.327,"y":-0.89},{"p":14,"k":"r","x":0.394,"y":-0.7},{"p":14,"k":"r","x":0.448,"y":-0.39},{"p":14,"k":"r","x":0.502,"y":-0.16},{"p":14,"k":"r","x":0.542,"y":-0.133},{"p":14,"k":"r","x":0.61,"y":-0.172},{"p":14,"k":"r","x":0.69,"y":-0.236},{"p":14,"k":"r","x":0.771,"y":-0.3},{"p":14,"k":"r","x":0.852,"y":-0.338},{"p":14,"k":"r","x":0.919,"y":-0.338},{"p":14,"k":"r","x":0.96,"y":-0.313},{"p":14,"k":"r","x":1,"y":-0.3},

{"p":15,"k":"b","x":-1,"y":1},{"p":15,"k":"b","x":-0.974,"y":0.66},{"p":15,"k":"b","x":-0.936,"y":0.15},{"p":15,"k":"b","x":-0.884,"y":-0.39},{"p":15,"k":"b","x":-0.833,"y":-0.646},{"p":15,"k":"b","x":-0.794,"y":-0.736},{"p":15,"k":"b","x":-0.756,"y":-0.67},{"p":15,"k":"b","x":-0.679,"y":-0.287},{"p":15,"k":"b","x":-0.602,"y":0.277},{"p":15,"k":"b","x":-0.537,"y":0.66},{"p":15,"k":"b","x":-0.486,"y":0.76},{"p":15,"k":"b","x":-0.434,"y":0.687},{"p":15,"k":"b","x":-0.344,"y":0.405},{"p":15,"k":"b","x":-0.242,"y":0.072},{"p":15,"k":"b","x":-0.139,"y":-0.16},{"p":15,"k":"b","x":-0.036,"y":-0.35},{"p":15,"k":"b","x":0.067,"y":-0.518},{"p":15,"k":"b","x":0.17,"y":-0.697},{"p":15,"k":"b","x":0.26,"y":-0.82},{"p":15,"k":"b","x":0.324,"y":-0.75},{"p":15,"k":"b","x":0.401,"y":-0.39},{"p":15,"k":"b","x":0.465,"y":0.02},{"p":15,"k":"b","x":0.53,"y":0.097},{"p":15,"k":"b","x":0.607,"y":0.046},{"p":15,"k":"b","x":0.71,"y":-0.044},{"p":15,"k":"b","x":0.812,"y":-0.005},{"p":15,"k":"b","x":0.889,"y":0.15},{"p":15,"k":"b","x":0.954,"y":0.456},{"p":15,"k":"b","x":1,"y":1},
{"p":15,"k":"r","x":-1,"y":1},{"p":15,"k":"r","x":-0.949,"y":0.66},{"p":15,"k":"r","x":-0.897,"y":0.123},{"p":15,"k":"r","x":-0.833,"y":-0.287},{"p":15,"k":"r","x":-0.794,"y":-0.26},{"p":15,"k":"r","x":-0.73,"y":-0.056},{"p":15,"k":"r","x":-0.653,"y":0.11},{"p":15,"k":"r","x":-0.614,"y":0.123},{"p":15,"k":"r","x":-0.563,"y":0.06},{"p":15,"k":"r","x":-0.499,"y":-0.16},{"p":15,"k":"r","x":-0.422,"y":-0.39},{"p":15,"k":"r","x":-0.319,"y":-0.57},{"p":15,"k":"r","x":-0.216,"y":-0.697},{"p":15,"k":"r","x":-0.113,"y":-0.75},{"p":15,"k":"r","x":0.015,"y":-0.78},{"p":15,"k":"r","x":0.144,"y":-0.813},{"p":15,"k":"r","x":0.272,"y":-0.864},{"p":15,"k":"r","x":0.35,"y":-0.838},{"p":15,"k":"r","x":0.427,"y":-0.646},{"p":15,"k":"r","x":0.504,"y":-0.39},{"p":15,"k":"r","x":0.581,"y":-0.26},{"p":15,"k":"r","x":0.684,"y":-0.21},{"p":15,"k":"r","x":0.812,"y":-0.185},{"p":15,"k":"r","x":0.915,"y":-0.146},{"p":15,"k":"r","x":0.979,"y":-0.12},{"p":15,"k":"r","x":1,"y":-0.095},

{"p":16,"k":"b","x":-1,"y":0.89},{"p":16,"k":"b","x":-0.931,"y":0.84},{"p":16,"k":"b","x":-0.879,"y":0.66},{"p":16,"k":"b","x":-0.841,"y":0.33},{"p":16,"k":"b","x":-0.802,"y":-0.236},{"p":16,"k":"b","x":-0.777,"y":-0.62},{"p":16,"k":"b","x":-0.751,"y":-0.71},{"p":16,"k":"b","x":-0.712,"y":-0.544},{"p":16,"k":"b","x":-0.661,"y":0.02},{"p":16,"k":"b","x":-0.61,"y":0.533},{"p":16,"k":"b","x":-0.558,"y":0.815},{"p":16,"k":"b","x":-0.507,"y":0.905},{"p":16,"k":"b","x":-0.456,"y":0.815},{"p":16,"k":"b","x":-0.392,"y":0.533},{"p":16,"k":"b","x":-0.314,"y":0.2},{"p":16,"k":"b","x":-0.212,"y":-0.108},{"p":16,"k":"b","x":-0.109,"y":-0.287},{"p":16,"k":"b","x":-0.006,"y":-0.4},{"p":16,"k":"b","x":0.096,"y":-0.49},{"p":16,"k":"b","x":0.173,"y":-0.536},{"p":16,"k":"b","x":0.225,"y":-0.505},{"p":16,"k":"b","x":0.302,"y":-0.338},{"p":16,"k":"b","x":0.379,"y":-0.16},{"p":16,"k":"b","x":0.456,"y":-0.005},{"p":16,"k":"b","x":0.533,"y":0.02},{"p":16,"k":"b","x":0.61,"y":-0.005},{"p":16,"k":"b","x":0.687,"y":-0.044},{"p":16,"k":"b","x":0.764,"y":-0.03},{"p":16,"k":"b","x":0.841,"y":0.046},{"p":16,"k":"b","x":0.918,"y":0.2},{"p":16,"k":"b","x":0.969,"y":0.48},{"p":16,"k":"b","x":1,"y":0.84},
{"p":16,"k":"r","x":-1,"y":0.995},{"p":16,"k":"r","x":-0.956,"y":0.79},{"p":16,"k":"r","x":-0.905,"y":0.456},{"p":16,"k":"r","x":-0.854,"y":0.072},{"p":16,"k":"r","x":-0.802,"y":-0.082},{"p":16,"k":"r","x":-0.751,"y":0.02},{"p":16,"k":"r","x":-0.7,"y":0.174},{"p":16,"k":"r","x":-0.648,"y":0.264},{"p":16,"k":"r","x":-0.597,"y":0.226},{"p":16,"k":"r","x":-0.546,"y":0.046},{"p":16,"k":"r","x":-0.469,"y":-0.21},{"p":16,"k":"r","x":-0.392,"y":-0.44},{"p":16,"k":"r","x":-0.289,"y":-0.67},{"p":16,"k":"r","x":-0.186,"y":-0.787},{"p":16,"k":"r","x":-0.058,"y":-0.826},{"p":16,"k":"r","x":0.071,"y":-0.833},{"p":16,"k":"r","x":0.199,"y":-0.826},{"p":16,"k":"r","x":0.276,"y":-0.75},{"p":16,"k":"r","x":0.379,"y":-0.544},{"p":16,"k":"r","x":0.481,"y":-0.377},{"p":16,"k":"r","x":0.584,"y":-0.3},{"p":16,"k":"r","x":0.687,"y":-0.236},{"p":16,"k":"r","x":0.789,"y":-0.16},{"p":16,"k":"r","x":0.892,"y":-0.082},{"p":16,"k":"r","x":0.969,"y":0.02},{"p":16,"k":"r","x":1,"y":0.43}
]},
"facet":{"field":"p","type":"ordinal","title":null,"header":{"labels":false,"title":null,"labelFontSize":0,"labelPadding":0,"labelExpr":"''"}},
"columns":4,
"spacing":0,
"spec":{
"width":435,
"height":270,
"layer":[
{"transform":[{"filter":"datum.k=='s'"}],
 "mark":{"type":"rect","color":"#c8c8c8","clip":true},
 "encoding":{
  "x":{"field":"a","type":"quantitative","scale":{"domain":[-1,1],"nice":false,"zero":false},
   "title":"cosθ",
   "axis":{"values":[-1,-0.875,-0.75,-0.625,-0.5,-0.375,-0.25,-0.125,0,0.125,0.25,0.375,0.5,0.625,0.75,0.875,1],
    "labelExpr":"abs(datum.value + 1) < 0.01 ? '-1' : abs(datum.value + 0.5) < 0.01 ? '-0.5' : abs(datum.value) < 0.01 ? '0' : abs(datum.value - 0.5) < 0.01 ? '0.5' : ''",
    "labelOverlap":false,"labelFlush":false,"labelPadding":3,"labelSeparation":0,"labelBound":false,
    "grid":true,"gridColor":"black","gridWidth":2,
    "gridDash":{"condition":{"test":"datum.value % 0.5 == 0","value":[10,250,10,400]},"value":[6,258,6,400]},
    "titleAnchor":"end","titlePadding":-16,"titleFontSize":21,"titleFontWeight":"bold"}},
  "x2":{"field":"b"},
  "y":{"field":"v","type":"quantitative","scale":{"domain":[-1,1],"nice":false,"zero":false},
   "title":null,
   "axis":{"values":[-1,-0.9375,-0.875,-0.8125,-0.75,-0.6875,-0.625,-0.5625,-0.5,-0.4375,-0.375,-0.3125,-0.25,-0.1875,-0.125,-0.0625,0,0.0625,0.125,0.1875,0.25,0.3125,0.375,0.4375,0.5,0.5625,0.625,0.6875,0.75,0.8125,0.875,0.9375,1],
    "labelExpr":"datum.value % 0.5 == 0 ? ('' + datum.value) : ''",
    "labelOverlap":false,"labelFlush":false,"labelPadding":4,"minExtent":48,"maxExtent":48,
    "grid":true,"gridColor":"black","gridWidth":2,
    "gridDash":{"condition":{"test":"datum.value % 0.5 == 0","value":[14,407,14,400]},"value":[8,419,8,400]}}},
  "y2":{"datum":0}
 }},
{"transform":[{"filter":"datum.k=='t'"}],
 "mark":{"type":"rule","color":"black","strokeWidth":1.6,"strokeDash":[8,5]},
 "encoding":{"y":{"datum":0,"title":null}}},
{"transform":[{"filter":"datum.k=='q'"}],
 "mark":{"type":"rect","filled":false,"stroke":"black","strokeWidth":2.5,"clip":true},
 "encoding":{"x":{"field":"a","type":"quantitative","title":"cosθ"},"x2":{"field":"b"},"y":{"field":"v","type":"quantitative","title":null},"y2":{"field":"w"}}},
{"transform":[{"filter":"datum.k=='k'"}],
 "mark":{"type":"line","color":"black","strokeWidth":3.4,"interpolate":"monotone","clip":true},
 "encoding":{"x":{"field":"x","type":"quantitative","title":"cosθ"},"y":{"field":"y","type":"quantitative","title":null}}},
{"transform":[{"filter":"datum.k=='b'"}],
 "mark":{"type":"line","color":"#1010ff","strokeWidth":3.8,"interpolate":"monotone","clip":true},
 "encoding":{"x":{"field":"x","type":"quantitative","title":"cosθ"},"y":{"field":"y","type":"quantitative","title":null}}},
{"transform":[{"filter":"datum.k=='r'"}],
 "mark":{"type":"line","color":"#f01010","strokeWidth":3.8,"interpolate":"monotone","clip":true},
 "encoding":{"x":{"field":"x","type":"quantitative","title":"cosθ"},"y":{"field":"y","type":"quantitative","title":null}}},
{"transform":[{"filter":"datum.k=='d'"}],
 "mark":{"type":"errorbar","color":"black","thickness":2.2,"clip":true},
 "encoding":{"x":{"field":"x","type":"quantitative","title":"cosθ"},"xError":{"field":"ex"},"y":{"field":"y","type":"quantitative","title":null}}},
{"transform":[{"filter":"datum.k=='d'"}],
 "mark":{"type":"errorbar","color":"black","thickness":2.2,"clip":true},
 "encoding":{"x":{"field":"x","type":"quantitative","title":"cosθ"},"y":{"field":"y","type":"quantitative","title":null},"yError":{"field":"ey"}}},
{"transform":[{"filter":"datum.k=='d'"}],
 "mark":{"type":"circle","color":"black","size":100,"opacity":1,"clip":true},
 "encoding":{"x":{"field":"x","type":"quantitative","title":"cosθ"},"y":{"field":"y","type":"quantitative","title":null}}},
{"transform":[{"filter":"datum.k=='t'"}],
 "mark":{"type":"text","font":"Liberation Sans","fontWeight":"bold","fontSize":28,"color":"black","align":"center","baseline":"middle"},
 "encoding":{"x":{"datum":0.03,"title":"cosθ"},"y":{"datum":0.855,"title":null},"text":{"field":"label"}}}
]
},
"config":{
 "font":"Liberation Sans",
 "view":{"stroke":"black","strokeWidth":2.5},
 "header":{"labels":false,"title":null,"labelFontSize":0,"labelPadding":0},
 "headerFacet":{"labels":false,"title":null,"labelFontSize":0,"labelPadding":0},
 "axis":{"domain":false,"ticks":false,"labelOverlap":false,"labelFont":"Liberation Sans","labelFontWeight":"bold","labelFontSize":18,"labelColor":"black","titleFont":"Liberation Sans","titleColor":"black"},
 "axisX":{"labelOverlap":false},
 "axisQuantitative":{"labelOverlap":false}
}
}
